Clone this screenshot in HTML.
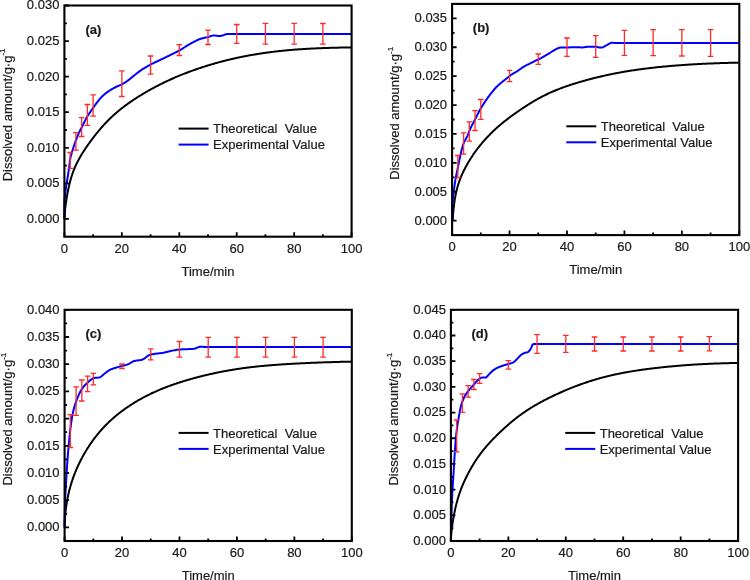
<!DOCTYPE html>
<html><head><meta charset="utf-8"><style>
html,body{margin:0;padding:0;background:#fff;}
svg{display:block;will-change:transform;}
text{font-family:"Liberation Sans", sans-serif;fill:#1a1a1a;stroke:#1a1a1a;stroke-width:0.2px;}
</style></head><body>
<svg width="750" height="580" viewBox="0 0 750 580">
<rect width="750" height="580" fill="#fff"/>
<g id="pa"><path d="M64.40,218.90 L64.40,218.90 L64.40,218.90 L64.41,218.83 L64.41,218.55 L64.42,218.26 L64.43,217.96 L64.44,217.66 L64.45,217.35 L64.46,217.03 L64.48,216.71 L64.50,216.39 L64.52,216.06 L64.54,215.73 L64.56,215.39 L64.58,215.05 L64.60,214.70 L64.63,214.35 L64.66,213.99 L64.69,213.62 L64.72,213.25 L64.75,212.87 L64.79,212.49 L64.82,212.11 L64.86,211.71 L64.90,211.32 L64.94,210.91 L64.98,210.50 L65.03,210.09 L65.07,209.67 L65.12,209.25 L65.17,208.82 L65.22,208.38 L65.27,207.94 L65.33,207.50 L65.38,207.05 L65.44,206.59 L65.50,206.13 L65.56,205.66 L65.62,205.19 L65.68,204.72 L65.75,204.24 L65.81,203.75 L65.88,203.26 L65.95,202.77 L66.02,202.27 L66.09,201.77 L66.17,201.26 L66.24,200.75 L66.32,200.24 L66.40,199.72 L66.48,199.20 L66.56,198.68 L66.65,198.15 L66.73,197.62 L66.82,197.09 L66.91,196.56 L67.00,196.03 L67.09,195.49 L67.19,194.95 L67.28,194.42 L67.38,193.88 L67.48,193.34 L67.58,192.80 L67.68,192.26 L67.78,191.72 L67.89,191.18 L67.99,190.64 L68.10,190.10 L68.21,189.56 L68.32,189.02 L68.44,188.49 L68.55,187.95 L68.67,187.42 L68.78,186.88 L68.90,186.35 L69.02,185.82 L69.15,185.30 L69.27,184.77 L69.40,184.25 L69.52,183.73 L69.65,183.21 L69.78,182.69 L69.91,182.18 L70.05,181.67 L70.18,181.16 L70.32,180.66 L70.46,180.16 L70.60,179.66 L70.74,179.16 L70.88,178.67 L71.03,178.18 L71.17,177.69 L71.32,177.21 L71.47,176.72 L71.62,176.24 L71.78,175.77 L71.93,175.29 L72.09,174.82 L72.25,174.35 L72.40,173.89 L72.57,173.42 L72.73,172.96 L72.89,172.51 L73.06,172.05 L73.22,171.60 L73.39,171.15 L73.56,170.70 L73.74,170.26 L73.91,169.82 L74.09,169.38 L74.26,168.94 L74.44,168.50 L74.62,168.07 L74.80,167.64 L74.99,167.21 L75.17,166.79 L75.36,166.36 L75.55,165.94 L75.74,165.52 L75.93,165.10 L76.12,164.69 L76.31,164.27 L76.51,163.86 L76.71,163.45 L76.91,163.04 L77.11,162.63 L77.31,162.23 L77.51,161.83 L77.72,161.42 L77.93,161.02 L78.14,160.62 L78.35,160.22 L78.56,159.82 L78.77,159.43 L78.99,159.03 L79.21,158.64 L79.42,158.25 L79.64,157.85 L79.87,157.46 L80.09,157.07 L80.31,156.68 L80.54,156.29 L80.77,155.90 L81.00,155.51 L81.23,155.13 L81.46,154.74 L81.70,154.35 L81.93,153.97 L82.17,153.58 L82.41,153.19 L82.65,152.81 L82.89,152.42 L83.14,152.04 L83.38,151.65 L83.63,151.27 L83.88,150.88 L84.13,150.50 L84.38,150.11 L84.64,149.73 L84.89,149.34 L85.15,148.95 L85.41,148.57 L85.67,148.18 L85.93,147.79 L86.19,147.41 L86.46,147.02 L86.72,146.63 L86.99,146.24 L87.26,145.86 L87.53,145.47 L87.81,145.08 L88.08,144.69 L88.36,144.30 L88.63,143.90 L88.91,143.51 L89.19,143.12 L89.48,142.73 L89.76,142.33 L90.05,141.94 L90.33,141.55 L90.62,141.15 L90.91,140.76 L91.21,140.36 L91.50,139.97 L91.80,139.57 L92.09,139.17 L92.39,138.78 L92.69,138.38 L92.99,137.98 L93.30,137.58 L93.60,137.19 L93.91,136.79 L94.22,136.39 L94.53,135.99 L94.84,135.59 L95.15,135.20 L95.46,134.80 L95.78,134.40 L96.10,134.00 L96.42,133.61 L96.74,133.21 L97.06,132.81 L97.39,132.41 L97.71,132.02 L98.04,131.62 L98.37,131.22 L98.70,130.83 L99.03,130.43 L99.36,130.04 L99.70,129.64 L100.04,129.25 L100.38,128.85 L100.72,128.46 L101.06,128.06 L101.40,127.67 L101.75,127.28 L102.09,126.88 L102.44,126.49 L102.79,126.10 L103.14,125.71 L103.49,125.32 L103.85,124.93 L104.21,124.54 L104.56,124.15 L104.92,123.76 L105.28,123.38 L105.65,122.99 L106.01,122.61 L106.38,122.22 L106.74,121.84 L107.11,121.46 L107.48,121.08 L107.86,120.70 L108.23,120.32 L108.60,119.95 L108.98,119.57 L109.36,119.20 L109.74,118.83 L110.12,118.46 L110.51,118.09 L110.89,117.72 L111.28,117.35 L111.67,116.98 L112.06,116.62 L112.45,116.25 L112.84,115.89 L113.23,115.53 L113.63,115.17 L114.03,114.81 L114.43,114.45 L114.83,114.09 L115.23,113.74 L115.64,113.38 L116.04,113.03 L116.45,112.68 L116.86,112.33 L117.27,111.98 L117.68,111.63 L118.09,111.28 L118.51,110.94 L118.93,110.59 L119.35,110.25 L119.77,109.91 L120.19,109.56 L120.61,109.22 L121.04,108.88 L121.46,108.55 L121.89,108.21 L122.32,107.88 L122.75,107.54 L123.19,107.21 L123.62,106.87 L124.06,106.54 L124.49,106.21 L124.93,105.88 L125.37,105.56 L125.82,105.23 L126.26,104.90 L126.71,104.58 L127.15,104.25 L127.60,103.93 L128.05,103.60 L128.51,103.28 L128.96,102.96 L129.42,102.64 L129.87,102.32 L130.33,102.00 L130.79,101.69 L131.25,101.37 L131.72,101.05 L132.18,100.74 L132.65,100.42 L133.12,100.11 L133.59,99.79 L134.06,99.48 L134.53,99.17 L135.01,98.86 L135.48,98.55 L135.96,98.24 L136.44,97.93 L136.92,97.62 L137.40,97.31 L137.89,97.00 L138.37,96.70 L138.86,96.39 L139.35,96.09 L139.84,95.78 L140.33,95.48 L140.83,95.18 L141.32,94.87 L141.82,94.57 L142.32,94.27 L142.82,93.97 L143.32,93.67 L143.82,93.37 L144.33,93.07 L144.84,92.77 L145.34,92.48 L145.85,92.18 L146.37,91.88 L146.88,91.59 L147.39,91.29 L147.91,91.00 L148.43,90.70 L148.95,90.41 L149.47,90.12 L149.99,89.83 L150.51,89.53 L151.04,89.24 L151.57,88.95 L152.10,88.66 L152.63,88.37 L153.16,88.09 L153.69,87.80 L154.23,87.51 L154.77,87.23 L155.31,86.94 L155.85,86.66 L156.39,86.37 L156.93,86.09 L157.48,85.80 L158.02,85.52 L158.57,85.24 L159.12,84.96 L159.67,84.68 L160.23,84.40 L160.78,84.12 L161.34,83.84 L161.89,83.57 L162.45,83.29 L163.02,83.01 L163.58,82.74 L164.14,82.46 L164.71,82.19 L165.28,81.92 L165.85,81.65 L166.42,81.38 L166.99,81.11 L167.56,80.84 L168.14,80.57 L168.71,80.31 L169.29,80.04 L169.87,79.78 L170.46,79.51 L171.04,79.25 L171.62,78.99 L172.21,78.72 L172.80,78.46 L173.39,78.21 L173.98,77.95 L174.57,77.69 L175.17,77.43 L175.76,77.18 L176.36,76.92 L176.96,76.67 L177.56,76.42 L178.17,76.16 L178.77,75.91 L179.38,75.66 L179.98,75.41 L180.59,75.16 L181.20,74.92 L181.82,74.67 L182.43,74.42 L183.05,74.18 L183.66,73.94 L184.28,73.69 L184.90,73.45 L185.52,73.21 L186.15,72.97 L186.77,72.73 L187.40,72.49 L188.03,72.26 L188.66,72.02 L189.29,71.78 L189.92,71.55 L190.56,71.32 L191.19,71.08 L191.83,70.85 L192.47,70.62 L193.11,70.39 L193.75,70.16 L194.40,69.94 L195.05,69.71 L195.69,69.48 L196.34,69.26 L196.99,69.03 L197.65,68.81 L198.30,68.59 L198.95,68.37 L199.61,68.15 L200.27,67.93 L200.93,67.71 L201.59,67.49 L202.26,67.27 L202.92,67.06 L203.59,66.84 L204.26,66.63 L204.93,66.42 L205.60,66.20 L206.27,65.99 L206.95,65.78 L207.62,65.57 L208.30,65.36 L208.98,65.16 L209.66,64.95 L210.34,64.74 L211.03,64.54 L211.71,64.34 L212.40,64.13 L213.09,63.93 L213.78,63.73 L214.47,63.53 L215.17,63.33 L215.86,63.14 L216.56,62.94 L217.26,62.74 L217.96,62.55 L218.66,62.36 L219.37,62.16 L220.07,61.97 L220.78,61.78 L221.49,61.59 L222.20,61.41 L222.91,61.22 L223.62,61.04 L224.34,60.85 L225.05,60.67 L225.77,60.49 L226.49,60.31 L227.21,60.13 L227.93,59.95 L228.66,59.77 L229.38,59.60 L230.11,59.42 L230.84,59.25 L231.57,59.08 L232.30,58.91 L233.04,58.74 L233.77,58.57 L234.51,58.41 L235.25,58.24 L235.99,58.08 L236.73,57.91 L237.48,57.75 L238.22,57.59 L238.97,57.43 L239.72,57.28 L240.47,57.12 L241.22,56.97 L241.97,56.81 L242.73,56.66 L243.48,56.51 L244.24,56.36 L245.00,56.21 L245.76,56.06 L246.52,55.92 L247.29,55.77 L248.05,55.63 L248.82,55.49 L249.59,55.35 L250.36,55.21 L251.13,55.07 L251.91,54.94 L252.68,54.80 L253.46,54.67 L254.24,54.54 L255.02,54.41 L255.80,54.28 L256.59,54.15 L257.37,54.02 L258.16,53.90 L258.95,53.77 L259.74,53.65 L260.53,53.53 L261.32,53.41 L262.12,53.29 L262.91,53.17 L263.71,53.06 L264.51,52.94 L265.31,52.83 L266.12,52.72 L266.92,52.61 L267.73,52.50 L268.53,52.39 L269.34,52.28 L270.15,52.18 L270.97,52.08 L271.78,51.97 L272.60,51.87 L273.41,51.77 L274.23,51.67 L275.05,51.57 L275.87,51.48 L276.70,51.38 L277.52,51.29 L278.35,51.20 L279.18,51.11 L280.01,51.02 L280.84,50.93 L281.67,50.84 L282.51,50.76 L283.34,50.67 L284.18,50.59 L285.02,50.51 L285.86,50.43 L286.71,50.35 L287.55,50.27 L288.40,50.19 L289.24,50.12 L290.09,50.04 L290.94,49.97 L291.80,49.90 L292.65,49.83 L293.51,49.76 L294.36,49.69 L295.22,49.62 L296.08,49.55 L296.95,49.49 L297.81,49.43 L298.67,49.36 L299.54,49.30 L300.41,49.24 L301.28,49.18 L302.15,49.13 L303.03,49.07 L303.90,49.01 L304.78,48.96 L305.65,48.91 L306.53,48.86 L307.42,48.80 L308.30,48.75 L309.18,48.71 L310.07,48.66 L310.96,48.61 L311.85,48.56 L312.74,48.52 L313.63,48.48 L314.52,48.43 L315.42,48.39 L316.32,48.35 L317.22,48.31 L318.12,48.27 L319.02,48.24 L319.92,48.20 L320.83,48.16 L321.73,48.13 L322.64,48.09 L323.55,48.06 L324.46,48.03 L325.38,48.00 L326.29,47.96 L327.21,47.94 L328.13,47.91 L329.05,47.88 L329.97,47.85 L330.89,47.82 L331.82,47.80 L332.74,47.77 L333.67,47.75 L334.60,47.72 L335.53,47.70 L336.46,47.68 L337.40,47.66 L338.33,47.64 L339.27,47.61 L340.21,47.59 L341.15,47.58 L342.09,47.56 L343.03,47.54 L343.98,47.52 L344.93,47.50 L345.88,47.49 L346.83,47.47 L347.78,47.46 L348.73,47.44 L349.69,47.43 L350.64,47.41 L351.60,47.40" fill="none" stroke="#000" stroke-width="2" stroke-linejoin="round"/>
<path d="M64.40,218.90 L64.40,217.90 L64.40,216.91 L64.40,215.91 L64.40,214.92 L64.40,213.92 L64.40,212.92 L64.40,211.93 L64.40,210.93 L64.40,209.93 L64.40,208.94 L64.41,207.94 L64.41,206.95 L64.42,205.95 L64.44,204.95 L64.45,203.96 L64.47,202.96 L64.49,201.97 L64.51,200.97 L64.55,199.98 L64.63,198.98 L64.72,197.99 L64.82,197.00 L64.93,196.01 L65.05,195.02 L65.16,194.03 L65.27,193.04 L65.39,192.05 L65.51,191.06 L65.64,190.07 L65.77,189.08 L65.91,188.10 L66.05,187.11 L66.20,186.13 L66.34,185.14 L66.50,184.16 L66.66,183.17 L66.83,182.19 L67.00,181.21 L67.16,180.23 L67.33,179.25 L67.49,178.26 L67.65,177.28 L67.81,176.30 L67.96,175.31 L68.12,174.33 L68.27,173.34 L68.43,172.36 L68.58,171.37 L68.73,170.39 L68.87,169.40 L69.01,168.42 L69.14,167.43 L69.27,166.44 L69.39,165.45 L69.50,164.46 L69.61,163.46 L69.73,162.47 L69.86,161.49 L69.99,160.50 L70.14,159.52 L70.31,158.54 L70.50,157.57 L70.73,156.60 L70.98,155.64 L71.24,154.68 L71.52,153.72 L71.81,152.76 L72.10,151.80 L72.39,150.85 L72.68,149.90 L72.97,148.94 L73.27,147.99 L73.58,147.05 L73.89,146.10 L74.21,145.15 L74.53,144.21 L74.86,143.27 L75.20,142.33 L75.54,141.40 L75.88,140.46 L76.23,139.53 L76.59,138.60 L76.95,137.67 L77.32,136.74 L77.69,135.81 L78.07,134.89 L78.46,133.98 L78.86,133.06 L79.27,132.15 L79.68,131.25 L80.11,130.36 L80.58,129.48 L81.06,128.60 L81.54,127.73 L82.01,126.85 L82.47,125.97 L82.92,125.08 L83.35,124.18 L83.78,123.28 L84.21,122.37 L84.64,121.47 L85.08,120.58 L85.52,119.69 L85.98,118.80 L86.46,117.93 L86.95,117.07 L87.46,116.22 L87.99,115.38 L88.53,114.55 L89.09,113.72 L89.65,112.89 L90.22,112.07 L90.79,111.25 L91.37,110.44 L91.94,109.62 L92.51,108.80 L93.07,107.98 L93.64,107.16 L94.20,106.34 L94.78,105.52 L95.35,104.70 L95.93,103.89 L96.52,103.09 L97.13,102.30 L97.74,101.52 L98.37,100.75 L99.00,99.98 L99.65,99.22 L100.31,98.46 L100.97,97.71 L101.65,96.97 L102.35,96.26 L103.06,95.56 L103.78,94.89 L104.53,94.25 L105.30,93.63 L106.09,93.02 L106.90,92.43 L107.72,91.86 L108.55,91.30 L109.39,90.75 L110.23,90.22 L111.07,89.69 L111.93,89.18 L112.79,88.68 L113.66,88.19 L114.54,87.71 L115.42,87.25 L116.30,86.80 L117.21,86.38 L118.12,85.98 L119.04,85.59 L119.97,85.20 L120.88,84.80 L121.77,84.37 L122.64,83.91 L123.51,83.41 L124.36,82.90 L125.20,82.36 L126.04,81.81 L126.86,81.24 L127.68,80.67 L128.49,80.09 L129.27,79.49 L130.05,78.87 L130.82,78.23 L131.58,77.58 L132.34,76.93 L133.10,76.29 L133.87,75.66 L134.65,75.04 L135.44,74.43 L136.22,73.81 L137.01,73.20 L137.80,72.59 L138.60,71.99 L139.40,71.40 L140.21,70.82 L141.03,70.25 L141.85,69.70 L142.68,69.16 L143.52,68.62 L144.37,68.10 L145.22,67.58 L146.08,67.07 L146.94,66.57 L147.81,66.07 L148.68,65.58 L149.55,65.10 L150.43,64.63 L151.31,64.17 L152.19,63.72 L153.09,63.28 L153.98,62.84 L154.88,62.41 L155.78,61.99 L156.69,61.56 L157.59,61.14 L158.49,60.72 L159.39,60.29 L160.29,59.86 L161.19,59.43 L162.09,59.00 L162.99,58.57 L163.89,58.14 L164.79,57.72 L165.69,57.29 L166.59,56.86 L167.48,56.43 L168.38,55.99 L169.28,55.56 L170.17,55.12 L171.06,54.67 L171.96,54.23 L172.85,53.79 L173.74,53.35 L174.63,52.90 L175.52,52.45 L176.41,52.00 L177.29,51.53 L178.17,51.07 L179.05,50.59 L179.92,50.11 L180.78,49.61 L181.63,49.10 L182.48,48.58 L183.33,48.05 L184.17,47.52 L185.02,46.99 L185.86,46.46 L186.71,45.94 L187.57,45.43 L188.43,44.93 L189.30,44.45 L190.17,43.96 L191.04,43.47 L191.92,42.97 L192.79,42.48 L193.67,41.98 L194.56,41.50 L195.44,41.03 L196.34,40.57 L197.23,40.14 L198.14,39.73 L199.05,39.35 L199.97,39.01 L200.90,38.70 L201.85,38.43 L202.81,38.20 L203.78,37.98 L204.76,37.78 L205.75,37.58 L206.73,37.37 L207.70,37.15 L208.66,36.88 L209.62,36.55 L210.57,36.19 L211.53,35.87 L212.49,35.63 L213.46,35.51 L214.44,35.53 L215.43,35.62 L216.43,35.74 L217.42,35.84 L218.42,35.97 L219.41,36.07 L220.39,36.09 L221.36,35.87 L222.31,35.53 L223.27,35.22 L224.22,34.89 L225.18,34.53 L226.13,34.22 L227.10,34.03 L228.07,34.00 L229.06,34.00 L230.06,34.00 L231.07,34.00 L232.06,34.00 L233.06,34.00 L234.06,34.00 L235.05,34.00 L236.05,34.00 L237.04,34.00 L238.04,34.00 L239.04,34.00 L240.03,34.00 L241.03,34.00 L242.03,34.00 L243.02,34.00 L244.02,34.00 L245.01,34.00 L246.01,34.00 L247.01,34.00 L248.00,34.00 L249.00,34.00 L249.99,34.00 L250.99,34.00 L251.99,34.00 L252.98,34.00 L253.98,34.00 L254.98,34.00 L255.97,34.00 L256.97,34.00 L257.96,34.00 L258.96,34.00 L259.96,34.00 L260.95,34.00 L261.95,34.00 L262.94,34.00 L263.94,34.00 L264.94,34.00 L265.93,34.00 L266.93,34.00 L267.92,34.00 L268.92,34.00 L269.92,34.00 L270.91,34.00 L271.91,34.00 L272.91,34.00 L273.90,34.00 L274.90,34.00 L275.89,34.00 L276.89,34.00 L277.89,34.00 L278.88,34.00 L279.88,34.00 L280.87,34.00 L281.87,34.00 L282.87,34.00 L283.86,34.00 L284.86,34.00 L285.86,34.00 L286.85,34.00 L287.85,34.00 L288.84,34.00 L289.84,34.00 L290.84,34.00 L291.83,34.00 L292.83,34.00 L293.82,34.00 L294.82,34.00 L295.82,34.00 L296.81,34.00 L297.81,34.00 L298.81,34.00 L299.80,34.00 L300.80,34.00 L301.79,34.00 L302.79,34.00 L303.79,34.00 L304.78,34.00 L305.78,34.00 L306.77,34.00 L307.77,34.00 L308.77,34.00 L309.76,34.00 L310.76,34.00 L311.75,34.00 L312.75,34.00 L313.75,34.00 L314.74,34.00 L315.74,34.00 L316.74,34.00 L317.73,34.00 L318.73,34.00 L319.72,34.00 L320.72,34.00 L321.72,34.00 L322.71,34.00 L323.71,34.00 L324.70,34.00 L325.70,34.00 L326.70,34.00 L327.69,34.00 L328.69,34.00 L329.69,34.00 L330.68,34.00 L331.68,34.00 L332.67,34.00 L333.67,34.00 L334.67,34.00 L335.66,34.00 L336.66,34.00 L337.65,34.00 L338.65,34.00 L339.65,34.00 L340.64,34.00 L341.64,34.00 L342.63,34.00 L343.63,34.00 L344.63,34.00 L345.62,34.00 L346.62,34.00 L347.62,34.00 L348.61,34.00 L349.61,34.00 L350.60,34.00 L351.60,34.00" fill="none" stroke="#0000ff" stroke-width="2.0" stroke-linejoin="round"/>
<path d="M70.14,152.50V168.30M67.34,152.50H72.94M67.34,168.30H72.94" stroke="#ff2a2a" stroke-width="1.3" fill="none"/>
<path d="M75.89,132.70V150.20M73.09,132.70H78.69M73.09,150.20H78.69" stroke="#ff2a2a" stroke-width="1.3" fill="none"/>
<path d="M81.63,117.60V136.50M78.83,117.60H84.43M78.83,136.50H84.43" stroke="#ff2a2a" stroke-width="1.3" fill="none"/>
<path d="M87.38,104.50V125.40M84.58,104.50H90.18M84.58,125.40H90.18" stroke="#ff2a2a" stroke-width="1.3" fill="none"/>
<path d="M93.12,94.80V116.20M90.32,94.80H95.92M90.32,116.20H95.92" stroke="#ff2a2a" stroke-width="1.3" fill="none"/>
<path d="M121.84,70.90V96.50M119.04,70.90H124.64M119.04,96.50H124.64" stroke="#ff2a2a" stroke-width="1.3" fill="none"/>
<path d="M150.56,56.00V74.10M147.76,56.00H153.36M147.76,74.10H153.36" stroke="#ff2a2a" stroke-width="1.3" fill="none"/>
<path d="M179.28,44.60V55.50M176.48,44.60H182.08M176.48,55.50H182.08" stroke="#ff2a2a" stroke-width="1.3" fill="none"/>
<path d="M208.00,30.10V44.50M205.20,30.10H210.80M205.20,44.50H210.80" stroke="#ff2a2a" stroke-width="1.3" fill="none"/>
<path d="M236.72,24.50V43.30M233.92,24.50H239.52M233.92,43.30H239.52" stroke="#ff2a2a" stroke-width="1.3" fill="none"/>
<path d="M265.44,23.40V44.10M262.64,23.40H268.24M262.64,44.10H268.24" stroke="#ff2a2a" stroke-width="1.3" fill="none"/>
<path d="M294.16,23.40V44.10M291.36,23.40H296.96M291.36,44.10H296.96" stroke="#ff2a2a" stroke-width="1.3" fill="none"/>
<path d="M322.88,23.50V44.20M320.08,23.50H325.68M320.08,44.20H325.68" stroke="#ff2a2a" stroke-width="1.3" fill="none"/>
<path d="M64.40,218.92h4.5 M64.40,183.35h4.5 M64.40,147.78h4.5 M64.40,112.21h4.5 M64.40,76.64h4.5 M64.40,41.07h4.5 M64.40,5.50h4.5 M64.40,201.13h2.5 M64.40,165.56h2.5 M64.40,129.99h2.5 M64.40,94.42h2.5 M64.40,58.85h2.5 M64.40,23.28h2.5 M64.40,236.70v-4.5 M121.84,236.70v-4.5 M179.28,236.70v-4.5 M236.72,236.70v-4.5 M294.16,236.70v-4.5 M351.60,236.70v-4.5 M93.12,236.70v-2.5 M150.56,236.70v-2.5 M208.00,236.70v-2.5 M265.44,236.70v-2.5 M322.88,236.70v-2.5" stroke="#000" stroke-width="1.8" fill="none"/>
<rect x="64.40" y="5.50" width="287.2" height="231.2" fill="none" stroke="#000" stroke-width="2.1"/>
<text x="59.40" y="222.82" font-size="13" text-anchor="end">0.000</text>
<text x="59.40" y="187.25" font-size="13" text-anchor="end">0.005</text>
<text x="59.40" y="151.68" font-size="13" text-anchor="end">0.010</text>
<text x="59.40" y="116.11" font-size="13" text-anchor="end">0.015</text>
<text x="59.40" y="80.54" font-size="13" text-anchor="end">0.020</text>
<text x="59.40" y="44.97" font-size="13" text-anchor="end">0.025</text>
<text x="59.40" y="9.40" font-size="13" text-anchor="end">0.030</text>
<text x="64.40" y="252.70" font-size="13" text-anchor="middle">0</text>
<text x="121.84" y="252.70" font-size="13" text-anchor="middle">20</text>
<text x="179.28" y="252.70" font-size="13" text-anchor="middle">40</text>
<text x="236.72" y="252.70" font-size="13" text-anchor="middle">60</text>
<text x="294.16" y="252.70" font-size="13" text-anchor="middle">80</text>
<text x="351.60" y="252.70" font-size="13" text-anchor="middle">100</text>
<text x="208.00" y="275.90" font-size="13" text-anchor="middle">Time/min</text>
<text transform="translate(11.60,181.30) rotate(-90)" font-size="13">Dissolved amount/g·g<tspan font-size="8" dy="-6.2">-1</tspan></text>
<path d="M178.60,128.60h30" stroke="#000" stroke-width="2"/>
<path d="M178.60,144.60h30" stroke="#0000ff" stroke-width="2"/>
<text x="213.10" y="133.20" font-size="13" xml:space="preserve">Theoretical  Value</text>
<text x="213.10" y="149.20" font-size="13">Experimental Value</text>
<text x="85.40" y="33.90" font-size="13" font-weight="bold">(a)</text></g>
<g id="pb"><path d="M452.10,220.65 L452.10,220.65 L452.10,220.65 L452.11,220.65 L452.11,220.65 L452.12,220.65 L452.13,220.65 L452.14,220.65 L452.15,220.65 L452.16,220.65 L452.18,220.65 L452.20,220.65 L452.22,220.65 L452.24,220.65 L452.26,220.65 L452.28,220.65 L452.30,220.65 L452.33,220.65 L452.36,220.65 L452.39,220.65 L452.42,220.65 L452.45,220.65 L452.49,220.65 L452.52,220.65 L452.56,220.65 L452.60,220.65 L452.64,220.40 L452.68,219.70 L452.73,219.01 L452.77,218.31 L452.82,217.62 L452.87,216.93 L452.92,216.23 L452.97,215.54 L453.03,214.86 L453.08,214.17 L453.14,213.49 L453.20,212.81 L453.26,212.13 L453.32,211.46 L453.38,210.79 L453.45,210.12 L453.51,209.46 L453.58,208.80 L453.65,208.15 L453.72,207.50 L453.79,206.85 L453.87,206.22 L453.94,205.58 L454.02,204.95 L454.10,204.33 L454.18,203.71 L454.26,203.10 L454.35,202.49 L454.43,201.89 L454.52,201.30 L454.61,200.71 L454.70,200.12 L454.79,199.54 L454.89,198.97 L454.98,198.40 L455.08,197.84 L455.18,197.28 L455.28,196.72 L455.38,196.18 L455.48,195.63 L455.59,195.09 L455.69,194.56 L455.80,194.03 L455.91,193.50 L456.02,192.98 L456.14,192.47 L456.25,191.96 L456.37,191.45 L456.48,190.95 L456.60,190.45 L456.72,189.95 L456.85,189.46 L456.97,188.98 L457.10,188.50 L457.22,188.02 L457.35,187.54 L457.48,187.07 L457.61,186.60 L457.75,186.14 L457.88,185.68 L458.02,185.22 L458.16,184.77 L458.30,184.32 L458.44,183.87 L458.58,183.42 L458.73,182.98 L458.87,182.54 L459.02,182.10 L459.17,181.67 L459.32,181.24 L459.48,180.81 L459.63,180.38 L459.79,179.95 L459.95,179.53 L460.10,179.11 L460.27,178.69 L460.43,178.28 L460.59,177.86 L460.76,177.45 L460.92,177.04 L461.09,176.63 L461.26,176.23 L461.44,175.82 L461.61,175.42 L461.79,175.02 L461.96,174.62 L462.14,174.22 L462.32,173.82 L462.50,173.42 L462.69,173.03 L462.87,172.63 L463.06,172.24 L463.25,171.84 L463.44,171.45 L463.63,171.06 L463.82,170.67 L464.01,170.28 L464.21,169.89 L464.41,169.50 L464.61,169.11 L464.81,168.72 L465.01,168.33 L465.21,167.94 L465.42,167.55 L465.63,167.17 L465.84,166.78 L466.05,166.39 L466.26,166.00 L466.47,165.62 L466.69,165.23 L466.91,164.84 L467.12,164.46 L467.34,164.07 L467.57,163.68 L467.79,163.30 L468.01,162.91 L468.24,162.52 L468.47,162.13 L468.70,161.75 L468.93,161.36 L469.16,160.97 L469.40,160.59 L469.63,160.20 L469.87,159.81 L470.11,159.43 L470.35,159.04 L470.59,158.65 L470.84,158.27 L471.08,157.88 L471.33,157.50 L471.58,157.11 L471.83,156.72 L472.08,156.34 L472.34,155.96 L472.59,155.57 L472.85,155.19 L473.11,154.81 L473.37,154.42 L473.63,154.04 L473.89,153.66 L474.16,153.28 L474.42,152.90 L474.69,152.52 L474.96,152.14 L475.23,151.76 L475.51,151.38 L475.78,151.00 L476.06,150.63 L476.33,150.25 L476.61,149.87 L476.89,149.50 L477.18,149.12 L477.46,148.75 L477.75,148.38 L478.03,148.00 L478.32,147.63 L478.61,147.26 L478.91,146.89 L479.20,146.52 L479.50,146.15 L479.79,145.78 L480.09,145.41 L480.39,145.04 L480.69,144.67 L481.00,144.31 L481.30,143.94 L481.61,143.57 L481.92,143.20 L482.23,142.84 L482.54,142.47 L482.85,142.11 L483.16,141.74 L483.48,141.38 L483.80,141.01 L484.12,140.65 L484.44,140.28 L484.76,139.92 L485.09,139.56 L485.41,139.20 L485.74,138.84 L486.07,138.47 L486.40,138.11 L486.73,137.75 L487.06,137.39 L487.40,137.04 L487.74,136.68 L488.08,136.32 L488.42,135.96 L488.76,135.61 L489.10,135.25 L489.45,134.90 L489.79,134.54 L490.14,134.19 L490.49,133.83 L490.84,133.48 L491.19,133.13 L491.55,132.78 L491.91,132.43 L492.26,132.08 L492.62,131.73 L492.98,131.38 L493.35,131.04 L493.71,130.69 L494.08,130.34 L494.44,130.00 L494.81,129.66 L495.18,129.31 L495.56,128.97 L495.93,128.63 L496.30,128.29 L496.68,127.95 L497.06,127.61 L497.44,127.27 L497.82,126.94 L498.21,126.60 L498.59,126.26 L498.98,125.93 L499.37,125.60 L499.76,125.26 L500.15,124.93 L500.54,124.60 L500.93,124.27 L501.33,123.94 L501.73,123.61 L502.13,123.28 L502.53,122.95 L502.93,122.62 L503.34,122.29 L503.74,121.97 L504.15,121.64 L504.56,121.31 L504.97,120.99 L505.38,120.66 L505.79,120.34 L506.21,120.02 L506.63,119.69 L507.05,119.37 L507.47,119.05 L507.89,118.73 L508.31,118.41 L508.74,118.08 L509.16,117.76 L509.59,117.44 L510.02,117.12 L510.45,116.80 L510.89,116.48 L511.32,116.16 L511.76,115.84 L512.19,115.53 L512.63,115.21 L513.07,114.89 L513.52,114.57 L513.96,114.25 L514.41,113.93 L514.85,113.61 L515.30,113.29 L515.75,112.98 L516.21,112.66 L516.66,112.34 L517.12,112.02 L517.57,111.70 L518.03,111.38 L518.49,111.06 L518.95,110.75 L519.42,110.43 L519.88,110.11 L520.35,109.79 L520.82,109.47 L521.29,109.16 L521.76,108.84 L522.23,108.52 L522.71,108.20 L523.18,107.89 L523.66,107.57 L524.14,107.25 L524.62,106.94 L525.10,106.62 L525.59,106.31 L526.07,105.99 L526.56,105.68 L527.05,105.36 L527.54,105.05 L528.03,104.74 L528.53,104.43 L529.02,104.11 L529.52,103.80 L530.02,103.49 L530.52,103.18 L531.02,102.88 L531.52,102.57 L532.03,102.26 L532.54,101.96 L533.04,101.65 L533.55,101.35 L534.07,101.05 L534.58,100.75 L535.09,100.45 L535.61,100.15 L536.13,99.85 L536.65,99.56 L537.17,99.27 L537.69,98.97 L538.21,98.68 L538.74,98.39 L539.27,98.11 L539.80,97.82 L540.33,97.54 L540.86,97.25 L541.39,96.97 L541.93,96.69 L542.47,96.42 L543.01,96.14 L543.55,95.86 L544.09,95.59 L544.63,95.32 L545.18,95.05 L545.72,94.78 L546.27,94.52 L546.82,94.25 L547.37,93.99 L547.93,93.73 L548.48,93.47 L549.04,93.21 L549.59,92.95 L550.15,92.70 L550.72,92.45 L551.28,92.20 L551.84,91.95 L552.41,91.70 L552.98,91.46 L553.55,91.21 L554.12,90.97 L554.69,90.73 L555.26,90.49 L555.84,90.26 L556.41,90.02 L556.99,89.79 L557.57,89.56 L558.16,89.33 L558.74,89.10 L559.32,88.87 L559.91,88.64 L560.50,88.42 L561.09,88.20 L561.68,87.98 L562.27,87.76 L562.87,87.54 L563.46,87.32 L564.06,87.11 L564.66,86.89 L565.26,86.68 L565.87,86.47 L566.47,86.26 L567.08,86.05 L567.68,85.84 L568.29,85.63 L568.90,85.43 L569.52,85.22 L570.13,85.02 L570.75,84.82 L571.36,84.61 L571.98,84.41 L572.60,84.22 L573.22,84.02 L573.85,83.82 L574.47,83.63 L575.10,83.43 L575.73,83.24 L576.36,83.04 L576.99,82.85 L577.62,82.66 L578.26,82.47 L578.89,82.28 L579.53,82.09 L580.17,81.91 L580.81,81.72 L581.45,81.53 L582.10,81.35 L582.75,81.17 L583.39,80.98 L584.04,80.80 L584.69,80.62 L585.35,80.44 L586.00,80.26 L586.65,80.08 L587.31,79.90 L587.97,79.72 L588.63,79.54 L589.29,79.37 L589.96,79.19 L590.62,79.02 L591.29,78.84 L591.96,78.67 L592.63,78.50 L593.30,78.33 L593.97,78.15 L594.65,77.98 L595.32,77.82 L596.00,77.65 L596.68,77.48 L597.36,77.31 L598.04,77.15 L598.73,76.98 L599.41,76.82 L600.10,76.66 L600.79,76.50 L601.48,76.33 L602.17,76.17 L602.87,76.02 L603.56,75.86 L604.26,75.70 L604.96,75.54 L605.66,75.39 L606.36,75.23 L607.07,75.08 L607.77,74.93 L608.48,74.78 L609.19,74.63 L609.90,74.48 L610.61,74.33 L611.32,74.18 L612.04,74.04 L612.75,73.89 L613.47,73.75 L614.19,73.60 L614.91,73.46 L615.63,73.32 L616.36,73.18 L617.08,73.04 L617.81,72.90 L618.54,72.77 L619.27,72.63 L620.00,72.50 L620.74,72.36 L621.47,72.23 L622.21,72.10 L622.95,71.97 L623.69,71.84 L624.43,71.71 L625.18,71.58 L625.92,71.46 L626.67,71.33 L627.42,71.21 L628.17,71.09 L628.92,70.96 L629.67,70.84 L630.43,70.72 L631.18,70.61 L631.94,70.49 L632.70,70.37 L633.46,70.26 L634.22,70.14 L634.99,70.03 L635.75,69.92 L636.52,69.81 L637.29,69.70 L638.06,69.59 L638.83,69.48 L639.61,69.38 L640.38,69.27 L641.16,69.17 L641.94,69.06 L642.72,68.96 L643.50,68.86 L644.29,68.76 L645.07,68.66 L645.86,68.56 L646.65,68.46 L647.44,68.37 L648.23,68.27 L649.02,68.18 L649.82,68.08 L650.61,67.99 L651.41,67.90 L652.21,67.80 L653.01,67.71 L653.82,67.62 L654.62,67.54 L655.43,67.45 L656.23,67.36 L657.04,67.28 L657.85,67.19 L658.67,67.11 L659.48,67.02 L660.30,66.94 L661.11,66.86 L661.93,66.78 L662.75,66.70 L663.57,66.62 L664.40,66.54 L665.22,66.46 L666.05,66.38 L666.88,66.31 L667.71,66.23 L668.54,66.16 L669.37,66.09 L670.21,66.01 L671.04,65.94 L671.88,65.87 L672.72,65.80 L673.56,65.73 L674.41,65.66 L675.25,65.59 L676.10,65.53 L676.94,65.46 L677.79,65.40 L678.64,65.33 L679.50,65.27 L680.35,65.20 L681.21,65.14 L682.06,65.08 L682.92,65.02 L683.78,64.96 L684.65,64.90 L685.51,64.84 L686.37,64.78 L687.24,64.73 L688.11,64.67 L688.98,64.61 L689.85,64.56 L690.73,64.51 L691.60,64.45 L692.48,64.40 L693.35,64.35 L694.23,64.30 L695.12,64.25 L696.00,64.20 L696.88,64.15 L697.77,64.10 L698.66,64.05 L699.55,64.00 L700.44,63.96 L701.33,63.91 L702.22,63.87 L703.12,63.82 L704.02,63.78 L704.92,63.74 L705.82,63.70 L706.72,63.66 L707.62,63.61 L708.53,63.57 L709.43,63.54 L710.34,63.50 L711.25,63.46 L712.16,63.42 L713.08,63.38 L713.99,63.35 L714.91,63.31 L715.83,63.28 L716.75,63.24 L717.67,63.21 L718.59,63.18 L719.52,63.14 L720.44,63.11 L721.37,63.08 L722.30,63.05 L723.23,63.02 L724.16,62.99 L725.10,62.96 L726.03,62.93 L726.97,62.90 L727.91,62.88 L728.85,62.85 L729.79,62.82 L730.73,62.80 L731.68,62.77 L732.63,62.74 L733.58,62.72 L734.53,62.70 L735.48,62.67 L736.43,62.65 L737.39,62.63 L738.34,62.60 L739.30,62.58" fill="none" stroke="#000" stroke-width="2" stroke-linejoin="round"/>
<path d="M452.60,220.65 L452.55,219.65 L452.52,218.65 L452.48,217.64 L452.46,216.64 L452.44,215.64 L452.42,214.64 L452.41,213.64 L452.41,212.64 L452.40,211.64 L452.40,210.64 L452.40,209.63 L452.40,208.64 L452.41,207.64 L452.43,206.64 L452.47,205.64 L452.52,204.64 L452.58,203.64 L452.66,202.64 L452.74,201.64 L452.83,200.64 L452.92,199.64 L453.03,198.64 L453.13,197.65 L453.24,196.65 L453.35,195.65 L453.46,194.65 L453.58,193.66 L453.69,192.66 L453.79,191.67 L453.90,190.67 L454.02,189.68 L454.14,188.69 L454.26,187.69 L454.40,186.70 L454.54,185.71 L454.68,184.71 L454.83,183.72 L454.98,182.73 L455.14,181.74 L455.29,180.75 L455.46,179.77 L455.62,178.78 L455.79,177.79 L455.96,176.81 L456.15,175.82 L456.34,174.84 L456.54,173.86 L456.74,172.88 L456.94,171.90 L457.15,170.92 L457.36,169.94 L457.57,168.96 L457.78,167.98 L457.98,167.00 L458.18,166.02 L458.38,165.03 L458.58,164.05 L458.78,163.07 L458.98,162.09 L459.18,161.11 L459.39,160.13 L459.59,159.15 L459.80,158.17 L460.02,157.19 L460.24,156.21 L460.46,155.24 L460.68,154.26 L460.90,153.28 L461.13,152.30 L461.35,151.31 L461.58,150.33 L461.82,149.35 L462.06,148.38 L462.32,147.41 L462.59,146.45 L462.88,145.50 L463.18,144.56 L463.51,143.63 L463.89,142.71 L464.30,141.81 L464.75,140.92 L465.23,140.03 L465.71,139.14 L466.20,138.26 L466.69,137.37 L467.16,136.48 L467.60,135.58 L468.01,134.67 L468.39,133.74 L468.74,132.80 L469.09,131.86 L469.43,130.92 L469.80,129.99 L470.19,129.07 L470.60,128.16 L471.02,127.25 L471.46,126.35 L471.90,125.46 L472.36,124.56 L472.82,123.67 L473.28,122.78 L473.75,121.89 L474.21,121.01 L474.68,120.12 L475.14,119.23 L475.59,118.33 L476.04,117.44 L476.49,116.54 L476.94,115.65 L477.40,114.75 L477.85,113.86 L478.31,112.97 L478.78,112.08 L479.25,111.20 L479.73,110.32 L480.21,109.45 L480.71,108.58 L481.22,107.72 L481.74,106.86 L482.26,106.01 L482.79,105.16 L483.33,104.31 L483.87,103.47 L484.42,102.63 L484.97,101.79 L485.53,100.96 L486.09,100.13 L486.66,99.31 L487.23,98.49 L487.81,97.67 L488.40,96.86 L488.99,96.05 L489.59,95.25 L490.20,94.45 L490.81,93.66 L491.43,92.87 L492.05,92.08 L492.68,91.30 L493.31,90.52 L493.96,89.76 L494.61,89.00 L495.28,88.26 L495.97,87.53 L496.67,86.82 L497.38,86.12 L498.12,85.44 L498.86,84.76 L499.61,84.10 L500.37,83.44 L501.13,82.79 L501.90,82.15 L502.68,81.53 L503.47,80.91 L504.26,80.30 L505.06,79.69 L505.85,79.07 L506.64,78.45 L507.41,77.82 L508.19,77.18 L508.97,76.54 L509.75,75.92 L510.54,75.31 L511.35,74.73 L512.19,74.19 L513.04,73.67 L513.91,73.17 L514.79,72.67 L515.66,72.17 L516.51,71.65 L517.35,71.11 L518.18,70.54 L519.00,69.97 L519.82,69.38 L520.63,68.79 L521.45,68.21 L522.28,67.65 L523.11,67.10 L523.96,66.58 L524.83,66.09 L525.71,65.62 L526.60,65.16 L527.50,64.72 L528.41,64.28 L529.31,63.84 L530.21,63.40 L531.10,62.94 L532.00,62.49 L532.89,62.04 L533.78,61.59 L534.68,61.15 L535.58,60.70 L536.48,60.27 L537.39,59.84 L538.30,59.42 L539.20,59.00 L540.10,58.55 L540.98,58.08 L541.86,57.60 L542.73,57.11 L543.60,56.61 L544.46,56.10 L545.33,55.59 L546.19,55.09 L547.06,54.58 L547.91,54.06 L548.77,53.54 L549.63,53.03 L550.48,52.51 L551.34,51.99 L552.20,51.48 L553.06,50.95 L553.91,50.40 L554.76,49.87 L555.63,49.37 L556.52,48.92 L557.43,48.52 L558.37,48.09 L559.32,47.72 L560.29,47.46 L561.26,47.40 L562.24,47.40 L563.24,47.40 L564.25,47.40 L565.26,47.40 L566.27,47.40 L567.27,47.40 L568.28,47.40 L569.28,47.38 L570.28,47.35 L571.28,47.32 L572.28,47.28 L573.28,47.25 L574.28,47.22 L575.28,47.20 L576.29,47.20 L577.29,47.22 L578.29,47.27 L579.29,47.31 L580.29,47.36 L581.29,47.39 L582.29,47.40 L583.29,47.33 L584.28,47.21 L585.28,47.06 L586.27,46.92 L587.27,46.82 L588.27,46.80 L589.27,46.80 L590.27,46.80 L591.27,46.80 L592.28,46.80 L593.28,46.80 L594.28,46.80 L595.28,46.80 L596.28,46.87 L597.28,47.02 L598.29,47.21 L599.28,47.40 L600.27,47.55 L601.23,47.60 L602.18,47.46 L603.11,47.12 L604.03,46.65 L604.94,46.14 L605.85,45.67 L606.76,45.22 L607.66,44.68 L608.55,44.12 L609.45,43.59 L610.35,43.16 L611.27,42.87 L612.22,42.80 L613.20,42.85 L614.21,42.94 L615.23,42.99 L616.23,43.00 L617.23,43.00 L618.23,43.00 L619.23,43.00 L620.23,43.00 L621.23,43.00 L622.23,43.00 L623.23,43.00 L624.23,43.00 L625.23,43.00 L626.23,43.00 L627.23,43.00 L628.23,43.00 L629.23,43.00 L630.23,43.00 L631.24,43.00 L632.24,43.00 L633.24,43.00 L634.24,43.00 L635.24,43.00 L636.24,43.00 L637.24,43.00 L638.24,43.00 L639.24,43.00 L640.24,43.00 L641.24,43.00 L642.24,43.00 L643.24,43.00 L644.24,43.00 L645.24,43.00 L646.24,43.00 L647.25,43.00 L648.25,43.00 L649.25,43.00 L650.25,43.00 L651.25,43.00 L652.25,43.00 L653.25,43.00 L654.25,43.00 L655.25,43.00 L656.25,43.00 L657.25,43.00 L658.25,43.00 L659.26,43.00 L660.26,43.00 L661.26,43.00 L662.26,43.00 L663.26,43.00 L664.26,43.00 L665.26,43.00 L666.26,43.00 L667.26,43.00 L668.26,43.00 L669.27,43.00 L670.27,43.00 L671.27,43.00 L672.27,43.00 L673.27,43.00 L674.27,43.00 L675.27,43.00 L676.27,43.00 L677.28,43.00 L678.28,43.00 L679.28,43.00 L680.28,43.00 L681.28,43.00 L682.28,43.00 L683.28,43.00 L684.28,43.00 L685.29,43.00 L686.29,43.00 L687.29,43.00 L688.29,43.00 L689.29,43.00 L690.29,43.00 L691.29,43.00 L692.30,43.00 L693.30,43.00 L694.30,43.00 L695.30,43.00 L696.30,43.00 L697.30,43.00 L698.31,43.00 L699.31,43.00 L700.31,43.00 L701.31,43.00 L702.31,43.00 L703.32,43.00 L704.32,43.00 L705.32,43.00 L706.32,43.00 L707.32,43.00 L708.32,43.00 L709.33,43.00 L710.33,43.00 L711.33,43.00 L712.33,43.00 L713.34,43.00 L714.34,43.00 L715.34,43.00 L716.34,43.00 L717.34,43.00 L718.35,43.00 L719.35,43.00 L720.35,43.00 L721.35,43.00 L722.36,43.00 L723.36,43.00 L724.36,43.00 L725.36,43.00 L726.37,43.00 L727.37,43.00 L728.37,43.00 L729.37,43.00 L730.38,43.00 L731.38,43.00 L732.38,43.00 L733.38,43.00 L734.39,43.00 L735.39,43.00 L736.39,43.00 L737.39,43.00 L738.40,43.00 L739.40,43.00" fill="none" stroke="#0000ff" stroke-width="2.0" stroke-linejoin="round"/>
<path d="M457.84,155.50V177.90M455.04,155.50H460.64M455.04,177.90H460.64" stroke="#ff2a2a" stroke-width="1.3" fill="none"/>
<path d="M463.59,132.80V154.10M460.79,132.80H466.39M460.79,154.10H466.39" stroke="#ff2a2a" stroke-width="1.3" fill="none"/>
<path d="M469.33,121.90V141.20M466.53,121.90H472.13M466.53,141.20H472.13" stroke="#ff2a2a" stroke-width="1.3" fill="none"/>
<path d="M475.08,110.70V130.50M472.28,110.70H477.88M472.28,130.50H477.88" stroke="#ff2a2a" stroke-width="1.3" fill="none"/>
<path d="M480.82,99.50V119.30M478.02,99.50H483.62M478.02,119.30H483.62" stroke="#ff2a2a" stroke-width="1.3" fill="none"/>
<path d="M509.54,70.30V81.70M506.74,70.30H512.34M506.74,81.70H512.34" stroke="#ff2a2a" stroke-width="1.3" fill="none"/>
<path d="M538.26,54.00V64.40M535.46,54.00H541.06M535.46,64.40H541.06" stroke="#ff2a2a" stroke-width="1.3" fill="none"/>
<path d="M566.98,38.00V56.40M564.18,38.00H569.78M564.18,56.40H569.78" stroke="#ff2a2a" stroke-width="1.3" fill="none"/>
<path d="M595.70,35.60V57.40M592.90,35.60H598.50M592.90,57.40H598.50" stroke="#ff2a2a" stroke-width="1.3" fill="none"/>
<path d="M624.42,30.40V55.40M621.62,30.40H627.22M621.62,55.40H627.22" stroke="#ff2a2a" stroke-width="1.3" fill="none"/>
<path d="M653.14,29.60V55.70M650.34,29.60H655.94M650.34,55.70H655.94" stroke="#ff2a2a" stroke-width="1.3" fill="none"/>
<path d="M681.86,29.60V56.00M679.06,29.60H684.66M679.06,56.00H684.66" stroke="#ff2a2a" stroke-width="1.3" fill="none"/>
<path d="M710.58,29.70V56.40M707.78,29.70H713.38M707.78,56.40H713.38" stroke="#ff2a2a" stroke-width="1.3" fill="none"/>
<path d="M452.10,220.65h4.5 M452.10,191.75h4.5 M452.10,162.85h4.5 M452.10,133.95h4.5 M452.10,105.05h4.5 M452.10,76.15h4.5 M452.10,47.25h4.5 M452.10,18.35h4.5 M452.10,206.20h2.5 M452.10,177.30h2.5 M452.10,148.40h2.5 M452.10,119.50h2.5 M452.10,90.60h2.5 M452.10,61.70h2.5 M452.10,32.80h2.5 M452.10,235.10v-4.5 M509.54,235.10v-4.5 M566.98,235.10v-4.5 M624.42,235.10v-4.5 M681.86,235.10v-4.5 M739.30,235.10v-4.5 M480.82,235.10v-2.5 M538.26,235.10v-2.5 M595.70,235.10v-2.5 M653.14,235.10v-2.5 M710.58,235.10v-2.5" stroke="#000" stroke-width="1.8" fill="none"/>
<rect x="452.10" y="3.90" width="287.2" height="231.2" fill="none" stroke="#000" stroke-width="2.1"/>
<text x="447.10" y="224.55" font-size="13" text-anchor="end">0.000</text>
<text x="447.10" y="195.65" font-size="13" text-anchor="end">0.005</text>
<text x="447.10" y="166.75" font-size="13" text-anchor="end">0.010</text>
<text x="447.10" y="137.85" font-size="13" text-anchor="end">0.015</text>
<text x="447.10" y="108.95" font-size="13" text-anchor="end">0.020</text>
<text x="447.10" y="80.05" font-size="13" text-anchor="end">0.025</text>
<text x="447.10" y="51.15" font-size="13" text-anchor="end">0.030</text>
<text x="447.10" y="22.25" font-size="13" text-anchor="end">0.035</text>
<text x="452.10" y="251.10" font-size="13" text-anchor="middle">0</text>
<text x="509.54" y="251.10" font-size="13" text-anchor="middle">20</text>
<text x="566.98" y="251.10" font-size="13" text-anchor="middle">40</text>
<text x="624.42" y="251.10" font-size="13" text-anchor="middle">60</text>
<text x="681.86" y="251.10" font-size="13" text-anchor="middle">80</text>
<text x="739.30" y="251.10" font-size="13" text-anchor="middle">100</text>
<text x="595.70" y="274.30" font-size="13" text-anchor="middle">Time/min</text>
<text transform="translate(399.30,179.70) rotate(-90)" font-size="13">Dissolved amount/g·g<tspan font-size="8" dy="-6.2">-1</tspan></text>
<path d="M566.30,126.30h30" stroke="#000" stroke-width="2"/>
<path d="M566.30,142.30h30" stroke="#0000ff" stroke-width="2"/>
<text x="600.80" y="130.90" font-size="13" xml:space="preserve">Theoretical  Value</text>
<text x="600.80" y="146.90" font-size="13">Experimental Value</text>
<text x="472.80" y="31.90" font-size="13" font-weight="bold">(b)</text></g>
<g id="pc"><path d="M64.60,527.40 L64.60,527.40 L64.60,527.15 L64.61,526.70 L64.61,526.24 L64.62,525.79 L64.63,525.33 L64.64,524.88 L64.65,524.42 L64.66,523.96 L64.68,523.50 L64.70,523.03 L64.72,522.57 L64.74,522.10 L64.76,521.64 L64.78,521.17 L64.80,520.70 L64.83,520.23 L64.86,519.76 L64.89,519.28 L64.92,518.81 L64.95,518.33 L64.99,517.85 L65.02,517.37 L65.06,516.89 L65.10,516.41 L65.14,515.92 L65.18,515.44 L65.23,514.95 L65.27,514.46 L65.32,513.97 L65.37,513.48 L65.42,512.98 L65.47,512.49 L65.53,511.99 L65.58,511.50 L65.64,511.00 L65.70,510.50 L65.76,510.00 L65.82,509.50 L65.88,508.99 L65.95,508.49 L66.01,507.99 L66.08,507.48 L66.15,506.97 L66.22,506.47 L66.29,505.96 L66.37,505.45 L66.44,504.95 L66.52,504.44 L66.60,503.93 L66.68,503.42 L66.76,502.91 L66.85,502.40 L66.93,501.90 L67.02,501.39 L67.11,500.88 L67.20,500.37 L67.29,499.87 L67.39,499.36 L67.48,498.85 L67.58,498.35 L67.68,497.84 L67.78,497.34 L67.88,496.84 L67.98,496.33 L68.09,495.83 L68.19,495.33 L68.30,494.83 L68.41,494.33 L68.52,493.83 L68.64,493.33 L68.75,492.84 L68.87,492.34 L68.98,491.84 L69.10,491.35 L69.22,490.86 L69.35,490.37 L69.47,489.87 L69.60,489.38 L69.72,488.89 L69.85,488.41 L69.98,487.92 L70.11,487.43 L70.25,486.95 L70.38,486.46 L70.52,485.98 L70.66,485.50 L70.80,485.02 L70.94,484.54 L71.08,484.06 L71.23,483.58 L71.37,483.11 L71.52,482.63 L71.67,482.16 L71.82,481.68 L71.98,481.21 L72.13,480.74 L72.29,480.27 L72.45,479.80 L72.60,479.33 L72.77,478.86 L72.93,478.40 L73.09,477.93 L73.26,477.47 L73.42,477.00 L73.59,476.54 L73.76,476.08 L73.94,475.61 L74.11,475.15 L74.29,474.69 L74.46,474.24 L74.64,473.78 L74.82,473.32 L75.00,472.86 L75.19,472.41 L75.37,471.95 L75.56,471.50 L75.75,471.04 L75.94,470.59 L76.13,470.14 L76.32,469.68 L76.51,469.23 L76.71,468.78 L76.91,468.33 L77.11,467.88 L77.31,467.43 L77.51,466.98 L77.71,466.53 L77.92,466.08 L78.13,465.63 L78.34,465.18 L78.55,464.73 L78.76,464.28 L78.97,463.84 L79.19,463.39 L79.41,462.94 L79.62,462.49 L79.84,462.05 L80.07,461.60 L80.29,461.15 L80.51,460.71 L80.74,460.26 L80.97,459.82 L81.20,459.38 L81.43,458.93 L81.66,458.49 L81.90,458.05 L82.13,457.60 L82.37,457.16 L82.61,456.72 L82.85,456.28 L83.09,455.84 L83.34,455.40 L83.58,454.96 L83.83,454.52 L84.08,454.08 L84.33,453.65 L84.58,453.21 L84.84,452.77 L85.09,452.34 L85.35,451.90 L85.61,451.47 L85.87,451.03 L86.13,450.60 L86.39,450.17 L86.66,449.74 L86.92,449.31 L87.19,448.88 L87.46,448.45 L87.73,448.02 L88.01,447.59 L88.28,447.16 L88.56,446.74 L88.83,446.31 L89.11,445.88 L89.39,445.46 L89.68,445.04 L89.96,444.61 L90.25,444.19 L90.53,443.77 L90.82,443.35 L91.11,442.93 L91.41,442.51 L91.70,442.10 L92.00,441.68 L92.29,441.26 L92.59,440.85 L92.89,440.43 L93.19,440.02 L93.50,439.61 L93.80,439.20 L94.11,438.79 L94.42,438.38 L94.73,437.97 L95.04,437.56 L95.35,437.15 L95.66,436.75 L95.98,436.34 L96.30,435.94 L96.62,435.54 L96.94,435.13 L97.26,434.73 L97.59,434.33 L97.91,433.93 L98.24,433.54 L98.57,433.14 L98.90,432.74 L99.23,432.35 L99.56,431.95 L99.90,431.56 L100.24,431.17 L100.58,430.78 L100.92,430.39 L101.26,430.00 L101.60,429.62 L101.95,429.23 L102.29,428.85 L102.64,428.46 L102.99,428.08 L103.34,427.70 L103.69,427.32 L104.05,426.94 L104.41,426.57 L104.76,426.19 L105.12,425.82 L105.48,425.45 L105.85,425.07 L106.21,424.70 L106.58,424.34 L106.94,423.97 L107.31,423.60 L107.68,423.24 L108.06,422.88 L108.43,422.51 L108.80,422.15 L109.18,421.79 L109.56,421.44 L109.94,421.08 L110.32,420.73 L110.71,420.37 L111.09,420.02 L111.48,419.67 L111.87,419.32 L112.26,418.97 L112.65,418.63 L113.04,418.28 L113.43,417.94 L113.83,417.60 L114.23,417.26 L114.63,416.92 L115.03,416.58 L115.43,416.24 L115.84,415.90 L116.24,415.57 L116.65,415.23 L117.06,414.90 L117.47,414.57 L117.88,414.24 L118.29,413.91 L118.71,413.58 L119.13,413.25 L119.55,412.92 L119.97,412.60 L120.39,412.28 L120.81,411.95 L121.24,411.63 L121.66,411.31 L122.09,410.99 L122.52,410.67 L122.95,410.36 L123.39,410.04 L123.82,409.72 L124.26,409.41 L124.69,409.10 L125.13,408.79 L125.57,408.47 L126.02,408.16 L126.46,407.86 L126.91,407.55 L127.35,407.24 L127.80,406.93 L128.25,406.63 L128.71,406.33 L129.16,406.02 L129.62,405.72 L130.07,405.42 L130.53,405.12 L130.99,404.82 L131.45,404.52 L131.92,404.23 L132.38,403.93 L132.85,403.63 L133.32,403.34 L133.79,403.05 L134.26,402.76 L134.73,402.47 L135.21,402.18 L135.68,401.89 L136.16,401.60 L136.64,401.31 L137.12,401.03 L137.60,400.74 L138.09,400.46 L138.57,400.18 L139.06,399.90 L139.55,399.62 L140.04,399.34 L140.53,399.06 L141.03,398.79 L141.52,398.51 L142.02,398.24 L142.52,397.96 L143.02,397.69 L143.52,397.42 L144.02,397.15 L144.53,396.89 L145.04,396.62 L145.54,396.36 L146.05,396.09 L146.57,395.83 L147.08,395.57 L147.59,395.31 L148.11,395.05 L148.63,394.79 L149.15,394.54 L149.67,394.28 L150.19,394.03 L150.71,393.77 L151.24,393.52 L151.77,393.27 L152.30,393.02 L152.83,392.78 L153.36,392.53 L153.89,392.28 L154.43,392.04 L154.97,391.80 L155.51,391.56 L156.05,391.32 L156.59,391.08 L157.13,390.84 L157.68,390.60 L158.22,390.37 L158.77,390.13 L159.32,389.90 L159.87,389.67 L160.43,389.44 L160.98,389.21 L161.54,388.98 L162.09,388.75 L162.65,388.53 L163.22,388.30 L163.78,388.08 L164.34,387.86 L164.91,387.63 L165.48,387.41 L166.05,387.20 L166.62,386.98 L167.19,386.76 L167.76,386.54 L168.34,386.33 L168.91,386.12 L169.49,385.90 L170.07,385.69 L170.66,385.48 L171.24,385.27 L171.82,385.06 L172.41,384.86 L173.00,384.65 L173.59,384.44 L174.18,384.24 L174.77,384.04 L175.37,383.83 L175.96,383.63 L176.56,383.43 L177.16,383.23 L177.76,383.03 L178.37,382.84 L178.97,382.64 L179.58,382.44 L180.18,382.25 L180.79,382.05 L181.40,381.86 L182.02,381.67 L182.63,381.48 L183.25,381.29 L183.86,381.10 L184.48,380.91 L185.10,380.72 L185.72,380.54 L186.35,380.35 L186.97,380.17 L187.60,379.98 L188.23,379.80 L188.86,379.62 L189.49,379.43 L190.12,379.25 L190.76,379.07 L191.39,378.90 L192.03,378.72 L192.67,378.54 L193.31,378.36 L193.95,378.19 L194.60,378.01 L195.25,377.84 L195.89,377.67 L196.54,377.49 L197.19,377.32 L197.85,377.15 L198.50,376.98 L199.15,376.81 L199.81,376.65 L200.47,376.48 L201.13,376.31 L201.79,376.15 L202.46,375.98 L203.12,375.82 L203.79,375.65 L204.46,375.49 L205.13,375.33 L205.80,375.17 L206.47,375.01 L207.15,374.85 L207.82,374.69 L208.50,374.53 L209.18,374.38 L209.86,374.22 L210.54,374.07 L211.23,373.91 L211.91,373.76 L212.60,373.61 L213.29,373.46 L213.98,373.31 L214.67,373.16 L215.37,373.01 L216.06,372.86 L216.76,372.71 L217.46,372.57 L218.16,372.42 L218.86,372.28 L219.57,372.14 L220.27,372.00 L220.98,371.86 L221.69,371.72 L222.40,371.58 L223.11,371.44 L223.82,371.31 L224.54,371.17 L225.25,371.04 L225.97,370.91 L226.69,370.78 L227.41,370.65 L228.13,370.52 L228.86,370.39 L229.58,370.26 L230.31,370.14 L231.04,370.01 L231.77,369.89 L232.50,369.77 L233.24,369.65 L233.97,369.53 L234.71,369.41 L235.45,369.30 L236.19,369.18 L236.93,369.07 L237.68,368.95 L238.42,368.84 L239.17,368.73 L239.92,368.62 L240.67,368.52 L241.42,368.41 L242.17,368.30 L242.93,368.20 L243.68,368.10 L244.44,367.99 L245.20,367.89 L245.96,367.80 L246.72,367.70 L247.49,367.60 L248.25,367.51 L249.02,367.41 L249.79,367.32 L250.56,367.23 L251.33,367.13 L252.11,367.05 L252.88,366.96 L253.66,366.87 L254.44,366.78 L255.22,366.70 L256.00,366.61 L256.79,366.53 L257.57,366.45 L258.36,366.37 L259.15,366.29 L259.94,366.21 L260.73,366.13 L261.52,366.06 L262.32,365.98 L263.11,365.91 L263.91,365.83 L264.71,365.76 L265.51,365.69 L266.32,365.62 L267.12,365.55 L267.93,365.48 L268.73,365.41 L269.54,365.34 L270.35,365.28 L271.17,365.21 L271.98,365.15 L272.80,365.08 L273.61,365.02 L274.43,364.96 L275.25,364.90 L276.07,364.84 L276.90,364.78 L277.72,364.72 L278.55,364.66 L279.38,364.60 L280.21,364.54 L281.04,364.48 L281.87,364.43 L282.71,364.37 L283.54,364.32 L284.38,364.26 L285.22,364.21 L286.06,364.16 L286.91,364.10 L287.75,364.05 L288.60,364.00 L289.44,363.95 L290.29,363.90 L291.14,363.85 L292.00,363.80 L292.85,363.75 L293.71,363.70 L294.56,363.66 L295.42,363.61 L296.28,363.56 L297.15,363.52 L298.01,363.47 L298.87,363.43 L299.74,363.38 L300.61,363.34 L301.48,363.30 L302.35,363.25 L303.23,363.21 L304.10,363.17 L304.98,363.13 L305.85,363.09 L306.73,363.05 L307.62,363.01 L308.50,362.97 L309.38,362.93 L310.27,362.89 L311.16,362.85 L312.05,362.81 L312.94,362.78 L313.83,362.74 L314.72,362.70 L315.62,362.67 L316.52,362.63 L317.42,362.60 L318.32,362.56 L319.22,362.53 L320.12,362.50 L321.03,362.46 L321.93,362.43 L322.84,362.40 L323.75,362.37 L324.66,362.33 L325.58,362.30 L326.49,362.27 L327.41,362.24 L328.33,362.21 L329.25,362.18 L330.17,362.15 L331.09,362.13 L332.02,362.10 L332.94,362.07 L333.87,362.04 L334.80,362.02 L335.73,361.99 L336.66,361.96 L337.60,361.94 L338.53,361.91 L339.47,361.89 L340.41,361.86 L341.35,361.84 L342.29,361.81 L343.23,361.79 L344.18,361.77 L345.13,361.75 L346.08,361.72 L347.03,361.70 L347.98,361.68 L348.93,361.66 L349.89,361.64 L350.84,361.62 L351.80,361.60" fill="none" stroke="#000" stroke-width="2" stroke-linejoin="round"/>
<path d="M64.60,527.40 L64.60,526.34 L64.61,525.29 L64.62,524.23 L64.63,523.18 L64.64,522.12 L64.66,521.07 L64.67,520.01 L64.69,518.95 L64.71,517.90 L64.73,516.84 L64.75,515.79 L64.77,514.73 L64.79,513.68 L64.81,512.62 L64.84,511.57 L64.86,510.51 L64.89,509.46 L64.91,508.40 L64.94,507.35 L64.97,506.29 L64.99,505.24 L65.02,504.18 L65.05,503.13 L65.09,502.07 L65.12,501.02 L65.16,499.96 L65.21,498.91 L65.25,497.85 L65.30,496.80 L65.35,495.74 L65.40,494.69 L65.45,493.64 L65.50,492.58 L65.56,491.53 L65.62,490.47 L65.67,489.42 L65.73,488.36 L65.79,487.31 L65.85,486.26 L65.91,485.20 L65.97,484.15 L66.04,483.09 L66.10,482.04 L66.16,480.99 L66.22,479.93 L66.28,478.88 L66.34,477.82 L66.40,476.77 L66.46,475.72 L66.52,474.66 L66.59,473.61 L66.65,472.56 L66.72,471.50 L66.78,470.45 L66.85,469.39 L66.92,468.34 L66.99,467.29 L67.06,466.23 L67.13,465.18 L67.20,464.13 L67.28,463.07 L67.35,462.02 L67.43,460.97 L67.50,459.92 L67.58,458.86 L67.66,457.81 L67.74,456.76 L67.82,455.71 L67.91,454.65 L67.99,453.60 L68.07,452.55 L68.16,451.50 L68.24,450.44 L68.33,449.39 L68.42,448.34 L68.51,447.29 L68.60,446.24 L68.70,445.18 L68.79,444.13 L68.89,443.08 L68.99,442.03 L69.09,440.98 L69.19,439.93 L69.29,438.88 L69.40,437.83 L69.51,436.78 L69.62,435.73 L69.73,434.68 L69.85,433.63 L69.96,432.58 L70.08,431.53 L70.21,430.49 L70.33,429.44 L70.46,428.39 L70.59,427.34 L70.73,426.29 L70.86,425.24 L71.01,424.19 L71.15,423.14 L71.30,422.10 L71.46,421.05 L71.62,420.00 L71.78,418.96 L71.95,417.92 L72.13,416.88 L72.32,415.84 L72.51,414.81 L72.71,413.77 L72.91,412.75 L73.13,411.72 L73.37,410.69 L73.62,409.66 L73.88,408.64 L74.17,407.62 L74.46,406.60 L74.77,405.58 L75.08,404.57 L75.41,403.56 L75.75,402.56 L76.09,401.57 L76.44,400.58 L76.80,399.59 L77.18,398.60 L77.57,397.61 L77.98,396.62 L78.40,395.64 L78.84,394.66 L79.29,393.70 L79.76,392.75 L80.25,391.81 L80.76,390.90 L81.29,390.00 L81.84,389.13 L82.43,388.28 L83.06,387.43 L83.72,386.59 L84.42,385.77 L85.14,384.98 L85.89,384.21 L86.65,383.47 L87.41,382.76 L88.20,382.07 L89.00,381.33 L89.84,380.59 L90.70,379.87 L91.58,379.22 L92.48,378.65 L93.41,378.21 L94.36,377.93 L95.36,377.79 L96.43,377.70 L97.53,377.63 L98.61,377.55 L99.61,377.42 L100.50,377.07 L101.34,376.42 L102.15,375.64 L102.97,374.90 L103.82,374.26 L104.65,373.59 L105.49,372.92 L106.33,372.25 L107.18,371.59 L108.04,370.97 L108.92,370.40 L109.81,369.89 L110.73,369.45 L111.68,369.05 L112.65,368.69 L113.64,368.35 L114.65,368.02 L115.67,367.72 L116.70,367.43 L117.73,367.14 L118.76,366.86 L119.79,366.58 L120.82,366.30 L121.84,366.00 L122.86,365.73 L123.89,365.47 L124.92,365.22 L125.94,364.95 L126.95,364.65 L127.93,364.31 L128.89,363.88 L129.83,363.36 L130.76,362.80 L131.68,362.24 L132.61,361.72 L133.56,361.27 L134.53,360.94 L135.54,360.73 L136.58,360.58 L137.65,360.46 L138.73,360.34 L139.79,360.22 L140.82,360.06 L141.81,359.84 L142.76,359.49 L143.68,358.99 L144.57,358.39 L145.45,357.72 L146.33,357.03 L147.20,356.35 L148.09,355.73 L149.00,355.20 L149.93,354.81 L150.90,354.55 L151.90,354.34 L152.92,354.16 L153.95,354.00 L155.00,353.85 L156.06,353.72 L157.13,353.59 L158.19,353.47 L159.26,353.34 L160.33,353.21 L161.39,353.06 L162.43,352.89 L163.47,352.71 L164.51,352.51 L165.54,352.29 L166.58,352.06 L167.61,351.82 L168.64,351.57 L169.68,351.33 L170.71,351.08 L171.74,350.84 L172.77,350.61 L173.81,350.39 L174.84,350.18 L175.88,349.99 L176.92,349.83 L177.96,349.68 L179.00,349.56 L180.04,349.47 L181.09,349.40 L182.15,349.35 L183.21,349.30 L184.27,349.26 L185.33,349.22 L186.39,349.18 L187.45,349.15 L188.51,349.11 L189.57,349.07 L190.62,349.01 L191.67,348.95 L192.71,348.88 L193.75,348.78 L194.77,348.57 L195.78,348.23 L196.79,347.83 L197.79,347.42 L198.80,347.07 L199.82,346.85 L200.85,346.80 L201.89,346.82 L202.94,346.85 L203.99,346.89 L205.05,346.94 L206.11,346.99 L207.17,347.04 L208.24,347.07 L209.30,347.10 L210.35,347.10 L211.41,347.10 L212.46,347.10 L213.52,347.10 L214.57,347.10 L215.63,347.10 L216.68,347.10 L217.74,347.10 L218.79,347.10 L219.85,347.10 L220.90,347.10 L221.96,347.10 L223.01,347.10 L224.07,347.10 L225.13,347.10 L226.18,347.10 L227.24,347.10 L228.29,347.10 L229.35,347.10 L230.40,347.10 L231.46,347.10 L232.51,347.10 L233.57,347.10 L234.62,347.10 L235.68,347.10 L236.73,347.10 L237.79,347.10 L238.84,347.10 L239.90,347.10 L240.96,347.10 L242.01,347.10 L243.07,347.10 L244.12,347.10 L245.18,347.10 L246.23,347.10 L247.29,347.10 L248.34,347.10 L249.40,347.10 L250.45,347.10 L251.51,347.10 L252.56,347.10 L253.62,347.10 L254.68,347.10 L255.73,347.10 L256.79,347.10 L257.84,347.10 L258.90,347.10 L259.95,347.10 L261.01,347.10 L262.06,347.10 L263.12,347.10 L264.17,347.10 L265.23,347.10 L266.28,347.10 L267.34,347.10 L268.40,347.10 L269.45,347.10 L270.51,347.10 L271.56,347.10 L272.62,347.10 L273.67,347.10 L274.73,347.10 L275.78,347.10 L276.84,347.10 L277.90,347.10 L278.95,347.10 L280.01,347.10 L281.06,347.10 L282.12,347.10 L283.17,347.10 L284.23,347.10 L285.28,347.10 L286.34,347.10 L287.40,347.10 L288.45,347.10 L289.51,347.10 L290.56,347.10 L291.62,347.10 L292.67,347.10 L293.73,347.10 L294.78,347.10 L295.84,347.10 L296.90,347.10 L297.95,347.10 L299.01,347.10 L300.06,347.10 L301.12,347.10 L302.17,347.10 L303.23,347.10 L304.29,347.10 L305.34,347.10 L306.40,347.10 L307.45,347.10 L308.51,347.10 L309.56,347.10 L310.62,347.10 L311.68,347.10 L312.73,347.10 L313.79,347.10 L314.84,347.10 L315.90,347.10 L316.95,347.10 L318.01,347.10 L319.07,347.10 L320.12,347.10 L321.18,347.10 L322.23,347.10 L323.29,347.10 L324.35,347.10 L325.40,347.10 L326.46,347.10 L327.51,347.10 L328.57,347.10 L329.62,347.10 L330.68,347.10 L331.74,347.10 L332.79,347.10 L333.85,347.10 L334.90,347.10 L335.96,347.10 L337.02,347.10 L338.07,347.10 L339.13,347.10 L340.18,347.10 L341.24,347.10 L342.30,347.10 L343.35,347.10 L344.41,347.10 L345.46,347.10 L346.52,347.10 L347.58,347.10 L348.63,347.10 L349.69,347.10 L350.74,347.10 L351.80,347.10" fill="none" stroke="#0000ff" stroke-width="2.0" stroke-linejoin="round"/>
<path d="M70.34,414.60V447.50M67.54,414.60H73.14M67.54,447.50H73.14" stroke="#ff2a2a" stroke-width="1.3" fill="none"/>
<path d="M76.09,386.90V415.30M73.29,386.90H78.89M73.29,415.30H78.89" stroke="#ff2a2a" stroke-width="1.3" fill="none"/>
<path d="M81.83,380.00V401.00M79.03,380.00H84.63M79.03,401.00H84.63" stroke="#ff2a2a" stroke-width="1.3" fill="none"/>
<path d="M87.58,376.20V391.60M84.78,376.20H90.38M84.78,391.60H90.38" stroke="#ff2a2a" stroke-width="1.3" fill="none"/>
<path d="M93.32,373.40V384.80M90.52,373.40H96.12M90.52,384.80H96.12" stroke="#ff2a2a" stroke-width="1.3" fill="none"/>
<path d="M122.04,364.00V368.50M119.24,364.00H124.84M119.24,368.50H124.84" stroke="#ff2a2a" stroke-width="1.3" fill="none"/>
<path d="M150.76,348.80V359.90M147.96,348.80H153.56M147.96,359.90H153.56" stroke="#ff2a2a" stroke-width="1.3" fill="none"/>
<path d="M179.48,341.50V357.10M176.68,341.50H182.28M176.68,357.10H182.28" stroke="#ff2a2a" stroke-width="1.3" fill="none"/>
<path d="M208.20,337.30V357.10M205.40,337.30H211.00M205.40,357.10H211.00" stroke="#ff2a2a" stroke-width="1.3" fill="none"/>
<path d="M236.92,337.30V357.10M234.12,337.30H239.72M234.12,357.10H239.72" stroke="#ff2a2a" stroke-width="1.3" fill="none"/>
<path d="M265.64,337.30V357.10M262.84,337.30H268.44M262.84,357.10H268.44" stroke="#ff2a2a" stroke-width="1.3" fill="none"/>
<path d="M294.36,337.30V357.10M291.56,337.30H297.16M291.56,357.10H297.16" stroke="#ff2a2a" stroke-width="1.3" fill="none"/>
<path d="M323.08,337.40V357.10M320.28,337.40H325.88M320.28,357.10H325.88" stroke="#ff2a2a" stroke-width="1.3" fill="none"/>
<path d="M64.60,527.40h4.5 M64.60,500.20h4.5 M64.60,473.00h4.5 M64.60,445.80h4.5 M64.60,418.60h4.5 M64.60,391.40h4.5 M64.60,364.20h4.5 M64.60,337.00h4.5 M64.60,309.80h4.5 M64.60,513.80h2.5 M64.60,486.60h2.5 M64.60,459.40h2.5 M64.60,432.20h2.5 M64.60,405.00h2.5 M64.60,377.80h2.5 M64.60,350.60h2.5 M64.60,323.40h2.5 M64.60,541.00v-4.5 M122.04,541.00v-4.5 M179.48,541.00v-4.5 M236.92,541.00v-4.5 M294.36,541.00v-4.5 M351.80,541.00v-4.5 M93.32,541.00v-2.5 M150.76,541.00v-2.5 M208.20,541.00v-2.5 M265.64,541.00v-2.5 M323.08,541.00v-2.5" stroke="#000" stroke-width="1.8" fill="none"/>
<rect x="64.60" y="309.80" width="287.2" height="231.2" fill="none" stroke="#000" stroke-width="2.1"/>
<text x="59.60" y="531.30" font-size="13" text-anchor="end">0.000</text>
<text x="59.60" y="504.10" font-size="13" text-anchor="end">0.005</text>
<text x="59.60" y="476.90" font-size="13" text-anchor="end">0.010</text>
<text x="59.60" y="449.70" font-size="13" text-anchor="end">0.015</text>
<text x="59.60" y="422.50" font-size="13" text-anchor="end">0.020</text>
<text x="59.60" y="395.30" font-size="13" text-anchor="end">0.025</text>
<text x="59.60" y="368.10" font-size="13" text-anchor="end">0.030</text>
<text x="59.60" y="340.90" font-size="13" text-anchor="end">0.035</text>
<text x="59.60" y="313.70" font-size="13" text-anchor="end">0.040</text>
<text x="64.60" y="557.00" font-size="13" text-anchor="middle">0</text>
<text x="122.04" y="557.00" font-size="13" text-anchor="middle">20</text>
<text x="179.48" y="557.00" font-size="13" text-anchor="middle">40</text>
<text x="236.92" y="557.00" font-size="13" text-anchor="middle">60</text>
<text x="294.36" y="557.00" font-size="13" text-anchor="middle">80</text>
<text x="351.80" y="557.00" font-size="13" text-anchor="middle">100</text>
<text x="208.20" y="580.20" font-size="13" text-anchor="middle">Time/min</text>
<text transform="translate(11.80,485.60) rotate(-90)" font-size="13">Dissolved amount/g·g<tspan font-size="8" dy="-6.2">-1</tspan></text>
<path d="M178.60,432.90h30" stroke="#000" stroke-width="2"/>
<path d="M178.60,448.90h30" stroke="#0000ff" stroke-width="2"/>
<text x="213.10" y="437.50" font-size="13" xml:space="preserve">Theoretical  Value</text>
<text x="213.10" y="453.50" font-size="13">Experimental Value</text>
<text x="85.40" y="338.10" font-size="13" font-weight="bold">(c)</text></g>
<g id="pd"><path d="M450.90,540.90 L450.90,540.90 L450.90,540.90 L450.91,540.68 L450.91,540.36 L450.92,540.03 L450.93,539.70 L450.94,539.36 L450.95,539.01 L450.96,538.67 L450.98,538.31 L451.00,537.96 L451.02,537.60 L451.04,537.23 L451.06,536.87 L451.08,536.49 L451.10,536.12 L451.13,535.74 L451.16,535.35 L451.19,534.97 L451.22,534.57 L451.25,534.18 L451.29,533.78 L451.32,533.38 L451.36,532.97 L451.40,532.56 L451.44,532.15 L451.48,531.73 L451.53,531.31 L451.57,530.89 L451.62,530.46 L451.67,530.03 L451.72,529.59 L451.77,529.16 L451.83,528.71 L451.88,528.27 L451.94,527.82 L452.00,527.37 L452.06,526.91 L452.12,526.45 L452.18,525.99 L452.25,525.52 L452.31,525.05 L452.38,524.57 L452.45,524.09 L452.52,523.61 L452.59,523.13 L452.67,522.64 L452.74,522.15 L452.82,521.65 L452.90,521.15 L452.98,520.65 L453.06,520.15 L453.15,519.64 L453.23,519.13 L453.32,518.62 L453.41,518.10 L453.50,517.59 L453.59,517.07 L453.69,516.55 L453.78,516.03 L453.88,515.50 L453.98,514.98 L454.08,514.45 L454.18,513.92 L454.28,513.39 L454.39,512.86 L454.49,512.33 L454.60,511.80 L454.71,511.27 L454.82,510.74 L454.94,510.20 L455.05,509.67 L455.17,509.14 L455.28,508.60 L455.40,508.07 L455.52,507.54 L455.65,507.01 L455.77,506.48 L455.90,505.95 L456.02,505.42 L456.15,504.89 L456.28,504.36 L456.41,503.84 L456.55,503.32 L456.68,502.79 L456.82,502.27 L456.96,501.76 L457.10,501.24 L457.24,500.72 L457.38,500.21 L457.53,499.70 L457.67,499.19 L457.82,498.68 L457.97,498.18 L458.12,497.67 L458.28,497.17 L458.43,496.67 L458.59,496.17 L458.75,495.68 L458.90,495.18 L459.07,494.69 L459.23,494.20 L459.39,493.71 L459.56,493.22 L459.72,492.74 L459.89,492.26 L460.06,491.77 L460.24,491.29 L460.41,490.81 L460.59,490.34 L460.76,489.86 L460.94,489.39 L461.12,488.91 L461.30,488.44 L461.49,487.97 L461.67,487.51 L461.86,487.04 L462.05,486.57 L462.24,486.11 L462.43,485.64 L462.62,485.18 L462.81,484.72 L463.01,484.26 L463.21,483.80 L463.41,483.35 L463.61,482.89 L463.81,482.43 L464.01,481.98 L464.22,481.52 L464.43,481.07 L464.64,480.61 L464.85,480.16 L465.06,479.71 L465.27,479.26 L465.49,478.81 L465.71,478.36 L465.92,477.91 L466.14,477.46 L466.37,477.01 L466.59,476.56 L466.81,476.11 L467.04,475.66 L467.27,475.21 L467.50,474.76 L467.73,474.31 L467.96,473.87 L468.20,473.42 L468.43,472.97 L468.67,472.52 L468.91,472.07 L469.15,471.63 L469.39,471.18 L469.64,470.73 L469.88,470.28 L470.13,469.84 L470.38,469.39 L470.63,468.95 L470.88,468.50 L471.14,468.05 L471.39,467.61 L471.65,467.16 L471.91,466.72 L472.17,466.28 L472.43,465.83 L472.69,465.39 L472.96,464.95 L473.22,464.51 L473.49,464.07 L473.76,463.63 L474.03,463.19 L474.31,462.75 L474.58,462.32 L474.86,461.88 L475.13,461.45 L475.41,461.02 L475.69,460.58 L475.98,460.15 L476.26,459.72 L476.55,459.29 L476.83,458.87 L477.12,458.44 L477.41,458.01 L477.71,457.59 L478.00,457.17 L478.30,456.75 L478.59,456.33 L478.89,455.91 L479.19,455.49 L479.49,455.07 L479.80,454.66 L480.10,454.25 L480.41,453.83 L480.72,453.42 L481.03,453.01 L481.34,452.60 L481.65,452.19 L481.96,451.79 L482.28,451.38 L482.60,450.98 L482.92,450.57 L483.24,450.17 L483.56,449.77 L483.89,449.37 L484.21,448.97 L484.54,448.57 L484.87,448.18 L485.20,447.78 L485.53,447.39 L485.86,446.99 L486.20,446.60 L486.54,446.21 L486.88,445.81 L487.22,445.42 L487.56,445.03 L487.90,444.64 L488.25,444.26 L488.59,443.87 L488.94,443.48 L489.29,443.09 L489.64,442.71 L489.99,442.32 L490.35,441.94 L490.71,441.55 L491.06,441.17 L491.42,440.79 L491.78,440.41 L492.15,440.02 L492.51,439.64 L492.88,439.26 L493.24,438.88 L493.61,438.50 L493.98,438.12 L494.36,437.74 L494.73,437.36 L495.10,436.98 L495.48,436.60 L495.86,436.22 L496.24,435.84 L496.62,435.46 L497.01,435.08 L497.39,434.70 L497.78,434.32 L498.17,433.94 L498.56,433.57 L498.95,433.19 L499.34,432.81 L499.73,432.43 L500.13,432.05 L500.53,431.68 L500.93,431.30 L501.33,430.92 L501.73,430.54 L502.14,430.17 L502.54,429.79 L502.95,429.41 L503.36,429.03 L503.77,428.66 L504.18,428.28 L504.59,427.90 L505.01,427.53 L505.43,427.15 L505.85,426.78 L506.27,426.40 L506.69,426.03 L507.11,425.65 L507.54,425.28 L507.96,424.90 L508.39,424.53 L508.82,424.16 L509.25,423.78 L509.69,423.41 L510.12,423.04 L510.56,422.67 L510.99,422.30 L511.43,421.94 L511.87,421.57 L512.32,421.20 L512.76,420.84 L513.21,420.48 L513.65,420.11 L514.10,419.75 L514.55,419.39 L515.01,419.03 L515.46,418.68 L515.92,418.32 L516.37,417.97 L516.83,417.61 L517.29,417.26 L517.75,416.91 L518.22,416.56 L518.68,416.21 L519.15,415.86 L519.62,415.52 L520.09,415.17 L520.56,414.83 L521.03,414.49 L521.51,414.15 L521.98,413.81 L522.46,413.47 L522.94,413.14 L523.42,412.80 L523.90,412.47 L524.39,412.13 L524.87,411.80 L525.36,411.48 L525.85,411.15 L526.34,410.82 L526.83,410.50 L527.33,410.17 L527.82,409.85 L528.32,409.53 L528.82,409.21 L529.32,408.89 L529.82,408.57 L530.32,408.26 L530.83,407.94 L531.34,407.63 L531.84,407.32 L532.35,407.01 L532.87,406.70 L533.38,406.39 L533.89,406.08 L534.41,405.78 L534.93,405.47 L535.45,405.17 L535.97,404.87 L536.49,404.57 L537.01,404.27 L537.54,403.97 L538.07,403.67 L538.60,403.38 L539.13,403.08 L539.66,402.79 L540.19,402.49 L540.73,402.20 L541.27,401.91 L541.81,401.62 L542.35,401.33 L542.89,401.04 L543.43,400.75 L543.98,400.47 L544.52,400.18 L545.07,399.90 L545.62,399.61 L546.17,399.33 L546.73,399.05 L547.28,398.77 L547.84,398.49 L548.39,398.21 L548.95,397.93 L549.52,397.65 L550.08,397.37 L550.64,397.10 L551.21,396.82 L551.78,396.55 L552.35,396.27 L552.92,396.00 L553.49,395.73 L554.06,395.45 L554.64,395.18 L555.21,394.91 L555.79,394.64 L556.37,394.37 L556.96,394.11 L557.54,393.84 L558.12,393.57 L558.71,393.30 L559.30,393.04 L559.89,392.77 L560.48,392.51 L561.07,392.25 L561.67,391.98 L562.26,391.72 L562.86,391.46 L563.46,391.20 L564.06,390.94 L564.67,390.68 L565.27,390.42 L565.88,390.16 L566.48,389.91 L567.09,389.65 L567.70,389.40 L568.32,389.14 L568.93,388.89 L569.55,388.64 L570.16,388.39 L570.78,388.14 L571.40,387.89 L572.02,387.64 L572.65,387.39 L573.27,387.14 L573.90,386.90 L574.53,386.65 L575.16,386.41 L575.79,386.17 L576.42,385.93 L577.06,385.69 L577.69,385.45 L578.33,385.21 L578.97,384.98 L579.61,384.74 L580.25,384.51 L580.90,384.28 L581.55,384.05 L582.19,383.82 L582.84,383.59 L583.49,383.36 L584.15,383.14 L584.80,382.91 L585.45,382.69 L586.11,382.47 L586.77,382.25 L587.43,382.03 L588.09,381.81 L588.76,381.59 L589.42,381.38 L590.09,381.16 L590.76,380.95 L591.43,380.74 L592.10,380.53 L592.77,380.33 L593.45,380.12 L594.12,379.91 L594.80,379.71 L595.48,379.51 L596.16,379.31 L596.84,379.11 L597.53,378.91 L598.21,378.72 L598.90,378.52 L599.59,378.33 L600.28,378.14 L600.97,377.95 L601.67,377.76 L602.36,377.58 L603.06,377.39 L603.76,377.21 L604.46,377.03 L605.16,376.85 L605.87,376.67 L606.57,376.49 L607.28,376.31 L607.99,376.14 L608.70,375.97 L609.41,375.80 L610.12,375.63 L610.84,375.46 L611.55,375.29 L612.27,375.13 L612.99,374.96 L613.71,374.80 L614.43,374.64 L615.16,374.48 L615.88,374.33 L616.61,374.17 L617.34,374.02 L618.07,373.87 L618.80,373.71 L619.54,373.56 L620.27,373.42 L621.01,373.27 L621.75,373.12 L622.49,372.98 L623.23,372.84 L623.98,372.70 L624.72,372.56 L625.47,372.42 L626.22,372.28 L626.97,372.15 L627.72,372.02 L628.47,371.88 L629.23,371.75 L629.98,371.62 L630.74,371.49 L631.50,371.37 L632.26,371.24 L633.02,371.12 L633.79,370.99 L634.55,370.87 L635.32,370.75 L636.09,370.63 L636.86,370.51 L637.63,370.40 L638.41,370.28 L639.18,370.17 L639.96,370.05 L640.74,369.94 L641.52,369.83 L642.30,369.72 L643.09,369.61 L643.87,369.50 L644.66,369.40 L645.45,369.29 L646.24,369.19 L647.03,369.08 L647.82,368.98 L648.62,368.88 L649.41,368.78 L650.21,368.68 L651.01,368.58 L651.81,368.48 L652.62,368.39 L653.42,368.29 L654.23,368.19 L655.03,368.10 L655.84,368.01 L656.65,367.91 L657.47,367.82 L658.28,367.73 L659.10,367.64 L659.91,367.55 L660.73,367.46 L661.55,367.37 L662.37,367.29 L663.20,367.20 L664.02,367.11 L664.85,367.03 L665.68,366.94 L666.51,366.86 L667.34,366.78 L668.17,366.70 L669.01,366.61 L669.84,366.53 L670.68,366.45 L671.52,366.38 L672.36,366.30 L673.21,366.22 L674.05,366.14 L674.90,366.07 L675.74,365.99 L676.59,365.92 L677.44,365.85 L678.30,365.77 L679.15,365.70 L680.01,365.63 L680.86,365.56 L681.72,365.49 L682.58,365.42 L683.45,365.36 L684.31,365.29 L685.17,365.23 L686.04,365.16 L686.91,365.10 L687.78,365.03 L688.65,364.97 L689.53,364.91 L690.40,364.85 L691.28,364.79 L692.15,364.73 L693.03,364.68 L693.92,364.62 L694.80,364.56 L695.68,364.51 L696.57,364.46 L697.46,364.40 L698.35,364.35 L699.24,364.30 L700.13,364.25 L701.02,364.20 L701.92,364.15 L702.82,364.11 L703.72,364.06 L704.62,364.01 L705.52,363.97 L706.42,363.93 L707.33,363.88 L708.23,363.84 L709.14,363.80 L710.05,363.76 L710.96,363.72 L711.88,363.68 L712.79,363.65 L713.71,363.61 L714.63,363.57 L715.55,363.54 L716.47,363.51 L717.39,363.47 L718.32,363.44 L719.24,363.41 L720.17,363.38 L721.10,363.35 L722.03,363.32 L722.96,363.29 L723.90,363.26 L724.83,363.24 L725.77,363.21 L726.71,363.19 L727.65,363.16 L728.59,363.14 L729.53,363.11 L730.48,363.09 L731.43,363.07 L732.38,363.05 L733.33,363.02 L734.28,363.00 L735.23,362.98 L736.19,362.96 L737.14,362.95 L738.10,362.93" fill="none" stroke="#000" stroke-width="2" stroke-linejoin="round"/>
<path d="M450.90,540.90 L450.92,539.80 L450.94,538.69 L450.96,537.59 L450.98,536.49 L451.00,535.39 L451.02,534.28 L451.05,533.18 L451.07,532.08 L451.09,530.98 L451.12,529.87 L451.14,528.77 L451.17,527.67 L451.20,526.57 L451.22,525.46 L451.25,524.36 L451.28,523.26 L451.31,522.16 L451.34,521.05 L451.37,519.95 L451.39,518.85 L451.42,517.75 L451.45,516.64 L451.49,515.54 L451.52,514.44 L451.55,513.34 L451.58,512.23 L451.61,511.13 L451.64,510.03 L451.68,508.93 L451.71,507.82 L451.75,506.72 L451.79,505.62 L451.83,504.52 L451.87,503.41 L451.91,502.31 L451.95,501.21 L452.00,500.11 L452.04,499.01 L452.09,497.91 L452.14,496.80 L452.20,495.70 L452.25,494.60 L452.31,493.50 L452.37,492.40 L452.43,491.30 L452.49,490.20 L452.55,489.10 L452.62,487.99 L452.68,486.89 L452.75,485.79 L452.82,484.69 L452.89,483.59 L452.96,482.49 L453.03,481.39 L453.10,480.29 L453.17,479.19 L453.24,478.09 L453.31,476.99 L453.38,475.88 L453.45,474.78 L453.52,473.68 L453.59,472.58 L453.66,471.48 L453.73,470.38 L453.79,469.28 L453.86,468.18 L453.92,467.08 L453.99,465.98 L454.05,464.88 L454.12,463.77 L454.18,462.67 L454.24,461.57 L454.31,460.47 L454.37,459.37 L454.43,458.27 L454.50,457.17 L454.56,456.06 L454.63,454.96 L454.70,453.86 L454.77,452.76 L454.84,451.66 L454.91,450.56 L454.98,449.46 L455.06,448.36 L455.13,447.26 L455.21,446.16 L455.30,445.06 L455.38,443.96 L455.47,442.86 L455.56,441.77 L455.66,440.67 L455.76,439.57 L455.86,438.47 L455.97,437.37 L456.08,436.27 L456.19,435.18 L456.31,434.08 L456.43,432.98 L456.56,431.89 L456.69,430.79 L456.82,429.70 L456.96,428.60 L457.10,427.51 L457.24,426.42 L457.39,425.32 L457.55,424.23 L457.73,423.14 L457.91,422.06 L458.09,420.97 L458.29,419.88 L458.48,418.80 L458.68,417.71 L458.88,416.63 L459.08,415.54 L459.28,414.45 L459.48,413.37 L459.67,412.28 L459.87,411.19 L460.08,410.10 L460.30,409.02 L460.53,407.94 L460.78,406.87 L461.04,405.81 L461.34,404.75 L461.65,403.70 L462.00,402.64 L462.37,401.59 L462.77,400.55 L463.19,399.53 L463.63,398.52 L464.09,397.53 L464.58,396.56 L465.12,395.60 L465.70,394.66 L466.32,393.74 L466.96,392.83 L467.61,391.93 L468.27,391.04 L468.93,390.17 L469.62,389.31 L470.33,388.46 L471.06,387.63 L471.79,386.80 L472.53,385.98 L473.28,385.17 L474.02,384.35 L474.76,383.51 L475.49,382.66 L476.23,381.80 L476.98,380.97 L477.76,380.19 L478.58,379.47 L479.44,378.84 L480.37,378.22 L481.39,377.71 L482.45,377.60 L483.59,377.60 L484.71,377.60 L485.69,377.55 L486.56,377.08 L487.36,376.26 L488.14,375.30 L488.93,374.36 L489.74,373.60 L490.56,372.84 L491.36,372.06 L492.18,371.30 L493.00,370.57 L493.86,369.89 L494.75,369.27 L495.68,368.71 L496.65,368.19 L497.65,367.71 L498.67,367.25 L499.69,366.82 L500.71,366.42 L501.75,366.05 L502.79,365.70 L503.84,365.37 L504.90,365.04 L505.96,364.72 L507.02,364.40 L508.07,364.07 L509.14,363.75 L510.23,363.45 L511.32,363.15 L512.36,362.81 L513.32,362.39 L514.20,361.82 L515.02,361.09 L515.81,360.28 L516.58,359.43 L517.37,358.64 L518.14,357.83 L518.89,357.00 L519.64,356.17 L520.42,355.40 L521.26,354.73 L522.17,354.14 L523.15,353.61 L524.17,353.13 L525.20,352.74 L526.29,352.45 L527.40,352.21 L528.31,351.82 L529.07,351.10 L529.76,350.16 L530.39,349.17 L531.00,348.20 L531.51,347.03 L531.99,345.83 L532.51,344.82 L533.15,344.24 L534.05,344.10 L535.23,344.02 L536.37,344.00 L537.47,344.00 L538.57,344.00 L539.67,344.00 L540.78,344.00 L541.88,344.00 L542.98,344.00 L544.08,344.00 L545.18,344.00 L546.28,344.00 L547.38,344.00 L548.48,344.00 L549.58,344.00 L550.68,344.00 L551.79,344.00 L552.89,344.00 L553.99,344.00 L555.09,344.00 L556.19,344.00 L557.29,344.00 L558.39,344.00 L559.49,344.00 L560.59,344.00 L561.70,344.00 L562.80,344.00 L563.90,344.00 L565.00,344.00 L566.10,344.00 L567.20,344.00 L568.30,344.00 L569.40,344.00 L570.51,344.00 L571.61,344.00 L572.71,344.00 L573.81,344.00 L574.91,344.00 L576.01,344.00 L577.11,344.00 L578.22,344.00 L579.32,344.00 L580.42,344.00 L581.52,344.00 L582.62,344.00 L583.72,344.00 L584.82,344.00 L585.93,344.00 L587.03,344.00 L588.13,344.00 L589.23,344.00 L590.33,344.00 L591.43,344.00 L592.54,344.00 L593.64,344.00 L594.74,344.00 L595.84,344.00 L596.94,344.00 L598.04,344.00 L599.15,344.00 L600.25,344.00 L601.35,344.00 L602.45,344.00 L603.55,344.00 L604.66,344.00 L605.76,344.00 L606.86,344.00 L607.96,344.00 L609.06,344.00 L610.17,344.00 L611.27,344.00 L612.37,344.00 L613.47,344.00 L614.57,344.00 L615.68,344.00 L616.78,344.00 L617.88,344.00 L618.98,344.00 L620.08,344.00 L621.19,344.00 L622.29,344.00 L623.39,344.00 L624.49,344.00 L625.60,344.00 L626.70,344.00 L627.80,344.00 L628.90,344.00 L630.01,344.00 L631.11,344.00 L632.21,344.00 L633.31,344.00 L634.42,344.00 L635.52,344.00 L636.62,344.00 L637.72,344.00 L638.83,344.00 L639.93,344.00 L641.03,344.00 L642.13,344.00 L643.24,344.00 L644.34,344.00 L645.44,344.00 L646.55,344.00 L647.65,344.00 L648.75,344.00 L649.85,344.00 L650.96,344.00 L652.06,344.00 L653.16,344.00 L654.27,344.00 L655.37,344.00 L656.47,344.00 L657.58,344.00 L658.68,344.00 L659.78,344.00 L660.89,344.00 L661.99,344.00 L663.09,344.00 L664.20,344.00 L665.30,344.00 L666.40,344.00 L667.51,344.00 L668.61,344.00 L669.71,344.00 L670.82,344.00 L671.92,344.00 L673.02,344.00 L674.13,344.00 L675.23,344.00 L676.33,344.00 L677.44,344.00 L678.54,344.00 L679.65,344.00 L680.75,344.00 L681.85,344.00 L682.96,344.00 L684.06,344.00 L685.17,344.00 L686.27,344.00 L687.37,344.00 L688.48,344.00 L689.58,344.00 L690.69,344.00 L691.79,344.00 L692.89,344.00 L694.00,344.00 L695.10,344.00 L696.21,344.00 L697.31,344.00 L698.42,344.00 L699.52,344.00 L700.62,344.00 L701.73,344.00 L702.83,344.00 L703.94,344.00 L705.04,344.00 L706.15,344.00 L707.25,344.00 L708.36,344.00 L709.46,344.00 L710.57,344.00 L711.67,344.00 L712.78,344.00 L713.88,344.00 L714.99,344.00 L716.09,344.00 L717.20,344.00 L718.30,344.00 L719.41,344.00 L720.51,344.00 L721.62,344.00 L722.72,344.00 L723.83,344.00 L724.93,344.00 L726.04,344.00 L727.14,344.00 L728.25,344.00 L729.35,344.00 L730.46,344.00 L731.57,344.00 L732.67,344.00 L733.78,344.00 L734.88,344.00 L735.99,344.00 L737.09,344.00 L738.20,344.00" fill="none" stroke="#0000ff" stroke-width="2.0" stroke-linejoin="round"/>
<path d="M456.64,420.00V451.80M453.84,420.00H459.44M453.84,451.80H459.44" stroke="#ff2a2a" stroke-width="1.3" fill="none"/>
<path d="M462.39,393.80V412.40M459.59,393.80H465.19M459.59,412.40H465.19" stroke="#ff2a2a" stroke-width="1.3" fill="none"/>
<path d="M468.13,385.70V397.20M465.33,385.70H470.93M465.33,397.20H470.93" stroke="#ff2a2a" stroke-width="1.3" fill="none"/>
<path d="M473.88,379.50V389.50M471.08,379.50H476.68M471.08,389.50H476.68" stroke="#ff2a2a" stroke-width="1.3" fill="none"/>
<path d="M479.62,373.60V383.40M476.82,373.60H482.42M476.82,383.40H482.42" stroke="#ff2a2a" stroke-width="1.3" fill="none"/>
<path d="M508.34,360.70V369.10M505.54,360.70H511.14M505.54,369.10H511.14" stroke="#ff2a2a" stroke-width="1.3" fill="none"/>
<path d="M537.06,334.70V353.30M534.26,334.70H539.86M534.26,353.30H539.86" stroke="#ff2a2a" stroke-width="1.3" fill="none"/>
<path d="M565.78,335.30V352.40M562.98,335.30H568.58M562.98,352.40H568.58" stroke="#ff2a2a" stroke-width="1.3" fill="none"/>
<path d="M594.50,337.00V351.00M591.70,337.00H597.30M591.70,351.00H597.30" stroke="#ff2a2a" stroke-width="1.3" fill="none"/>
<path d="M623.22,337.00V351.00M620.42,337.00H626.02M620.42,351.00H626.02" stroke="#ff2a2a" stroke-width="1.3" fill="none"/>
<path d="M651.94,337.00V351.00M649.14,337.00H654.74M649.14,351.00H654.74" stroke="#ff2a2a" stroke-width="1.3" fill="none"/>
<path d="M680.66,337.00V351.00M677.86,337.00H683.46M677.86,351.00H683.46" stroke="#ff2a2a" stroke-width="1.3" fill="none"/>
<path d="M709.38,336.70V350.90M706.58,336.70H712.18M706.58,350.90H712.18" stroke="#ff2a2a" stroke-width="1.3" fill="none"/>
<path d="M450.90,541.00h4.5 M450.90,515.31h4.5 M450.90,489.62h4.5 M450.90,463.93h4.5 M450.90,438.24h4.5 M450.90,412.56h4.5 M450.90,386.87h4.5 M450.90,361.18h4.5 M450.90,335.49h4.5 M450.90,309.80h4.5 M450.90,528.16h2.5 M450.90,502.47h2.5 M450.90,476.78h2.5 M450.90,451.09h2.5 M450.90,425.40h2.5 M450.90,399.71h2.5 M450.90,374.02h2.5 M450.90,348.33h2.5 M450.90,322.64h2.5 M450.90,541.00v-4.5 M508.34,541.00v-4.5 M565.78,541.00v-4.5 M623.22,541.00v-4.5 M680.66,541.00v-4.5 M738.10,541.00v-4.5 M479.62,541.00v-2.5 M537.06,541.00v-2.5 M594.50,541.00v-2.5 M651.94,541.00v-2.5 M709.38,541.00v-2.5" stroke="#000" stroke-width="1.8" fill="none"/>
<rect x="450.90" y="309.80" width="287.2" height="231.2" fill="none" stroke="#000" stroke-width="2.1"/>
<text x="445.90" y="544.90" font-size="13" text-anchor="end">0.000</text>
<text x="445.90" y="519.21" font-size="13" text-anchor="end">0.005</text>
<text x="445.90" y="493.52" font-size="13" text-anchor="end">0.010</text>
<text x="445.90" y="467.83" font-size="13" text-anchor="end">0.015</text>
<text x="445.90" y="442.14" font-size="13" text-anchor="end">0.020</text>
<text x="445.90" y="416.46" font-size="13" text-anchor="end">0.025</text>
<text x="445.90" y="390.77" font-size="13" text-anchor="end">0.030</text>
<text x="445.90" y="365.08" font-size="13" text-anchor="end">0.035</text>
<text x="445.90" y="339.39" font-size="13" text-anchor="end">0.040</text>
<text x="445.90" y="313.70" font-size="13" text-anchor="end">0.045</text>
<text x="450.90" y="557.00" font-size="13" text-anchor="middle">0</text>
<text x="508.34" y="557.00" font-size="13" text-anchor="middle">20</text>
<text x="565.78" y="557.00" font-size="13" text-anchor="middle">40</text>
<text x="623.22" y="557.00" font-size="13" text-anchor="middle">60</text>
<text x="680.66" y="557.00" font-size="13" text-anchor="middle">80</text>
<text x="738.10" y="557.00" font-size="13" text-anchor="middle">100</text>
<text x="594.50" y="580.20" font-size="13" text-anchor="middle">Time/min</text>
<text transform="translate(398.10,485.60) rotate(-90)" font-size="13">Dissolved amount/g·g<tspan font-size="8" dy="-6.2">-1</tspan></text>
<path d="M565.20,432.90h30" stroke="#000" stroke-width="2"/>
<path d="M565.20,448.90h30" stroke="#0000ff" stroke-width="2"/>
<text x="599.70" y="437.50" font-size="13" xml:space="preserve">Theoretical  Value</text>
<text x="599.70" y="453.50" font-size="13">Experimental Value</text>
<text x="471.50" y="338.10" font-size="13" font-weight="bold">(d)</text></g>
</svg></body></html>
